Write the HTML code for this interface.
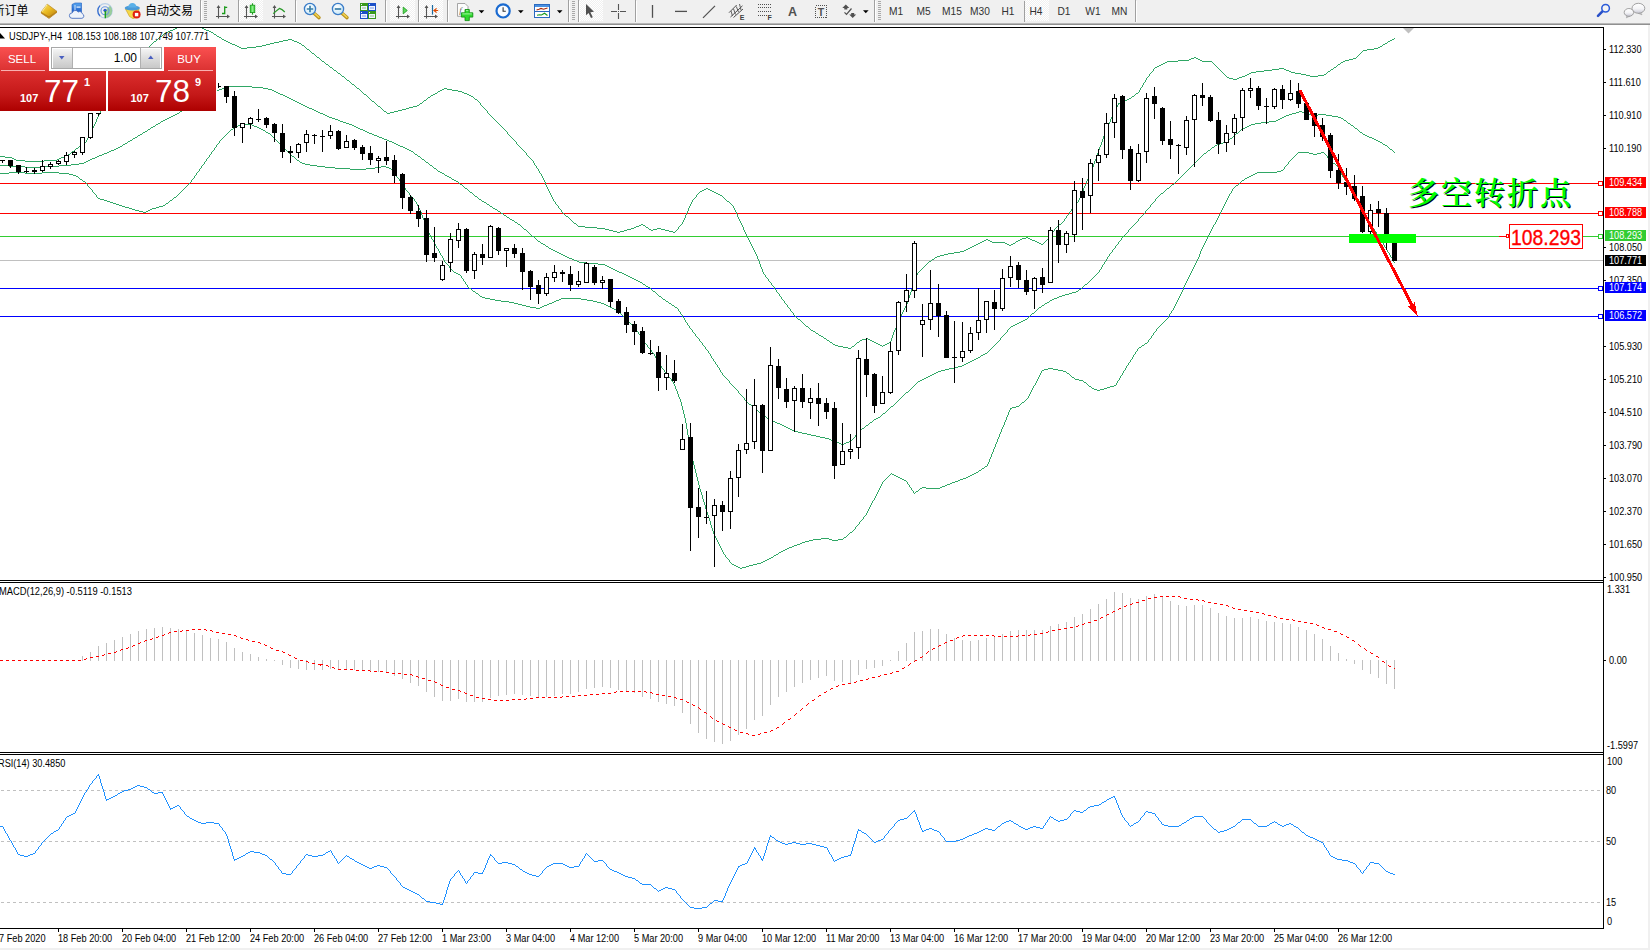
<!DOCTYPE html>
<html lang="zh"><head><meta charset="utf-8"><title>USDJPY-,H4</title>
<style>html,body{margin:0;padding:0;background:#f0f0f0;}body{width:1650px;height:950px;overflow:hidden;position:relative;font-family:"Liberation Sans","Noto Sans CJK SC",sans-serif;}</style></head>
<body>
<svg width="1650" height="950" viewBox="0 0 1650 950" style="position:absolute;left:0;top:0" font-family="Liberation Sans, Noto Sans CJK SC, sans-serif">
<defs><clipPath id="cm"><rect x="0" y="28" width="1603" height="552"/></clipPath></defs>
<rect x="0" y="0" width="1650" height="950" fill="#f0f0f0"/>
<rect x="0" y="25" width="1648" height="923" fill="#ffffff"/>
<rect x="0" y="23" width="1650" height="1" fill="#b8b8b8"/>
<rect x="0" y="24" width="1650" height="1" fill="#909090"/>
<g shape-rendering="crispEdges">
<rect x="0" y="27" width="1604" height="1" fill="#000" />
<rect x="1603" y="27" width="1" height="902" fill="#000"/>
<rect x="0" y="580" width="1604" height="1" fill="#000" />
<rect x="0" y="582" width="1604" height="1" fill="#000" />
<rect x="0" y="752" width="1604" height="1" fill="#000" />
<rect x="0" y="754" width="1604" height="1" fill="#000" />
<rect x="0" y="928" width="1604" height="1" fill="#000" />
<g clip-path="url(#cm)">
<rect x="0" y="260" width="1603" height="1" fill="#c0c0c0" />
<rect x="0" y="183" width="1603" height="1" fill="#ff0000" />
<rect x="0" y="213" width="1603" height="1" fill="#ff0000" />
<rect x="0" y="236" width="1603" height="1" fill="#32cd32" />
<rect x="0" y="288" width="1603" height="1" fill="#0000ff" />
<rect x="0" y="316" width="1603" height="1" fill="#0000ff" />
<path d="M605 229.5h4M627 229.5h4M649 229.5h2M653 229.5h4M661 229.5h4M972 246.5h2M224 40.5h2M283 40.5h5M292 40.5h2M1390 40.5h2M862 339.5h4M868 339.5h2M462 92.5h2M16 160.5h9M44 160.5h13M1251 72.5h5M1291 72.5h4M1178 60.5h11M1200 60.5h2M1345 60.5h4M976 244.5h2M1007 244.5h2M1011 244.5h2M1041 244.5h2M716 193.5h2M1272 69.5h7M1284 69.5h2M1331 69.5h2M1191 58.5h3M1196 58.5h2M1353 58.5h3M83 143.5h2M1165 62.5h2M1341 62.5h2M929 261.5h2M364 94.5h2M433 94.5h2M467 94.5h2M154 41.5h2M226 41.5h2M279 41.5h4M294 41.5h3M1388 41.5h2M307 49.5h2M1367 49.5h7M585 227.5h12M634 227.5h2M646 227.5h2M471 96.5h2M1132 96.5h2M704 189.5h2M708 189.5h2M409 107.5h4M838 346.5h5M852 346.5h2M830 342.5h2M857 342.5h2M874 342.5h2M889 342.5h2M222 39.5h2M288 39.5h4M1392 39.5h2M440 90.5h2M452 90.5h6M442 89.5h2M447 89.5h5M986 239.5h2M1020 239.5h2M1030 239.5h2M1233 79.5h4M357 88.5h2M444 88.5h3M347 80.5h2M235 45.5h2M262 45.5h4M302 45.5h2M1129 98.5h2M378 106.5h2M413 106.5h4M639 225.5h2M643 225.5h2M964 250.5h2M876 343.5h2M887 343.5h2M702 190.5h2M710 190.5h2M980 242.5h2M992 242.5h13M1037 242.5h2M228 42.5h2M274 42.5h5M297 42.5h2M352 84.5h2M984 240.5h2M988 240.5h2M1018 240.5h2M1032 240.5h3M566 216.5h2M1026 237.5h2M1163 63.5h2M438 91.5h2M458 91.5h4M714 192.5h2M214 34.5h2M170 30.5h3M206 30.5h3M390 112.5h4M342 76.5h2M1242 76.5h3M1310 76.5h8M940 255.5h4M1022 238.5h4M1028 238.5h2M334 70.5h2M1264 70.5h8M1286 70.5h3M720 195.5h2M641 224.5h2M1059 224.5h2M819 335.5h2M966 249.5h2M160 36.5h2M217 36.5h2M1247 74.5h2M1301 74.5h5M1324 74.5h2M960 251.5h4M25 161.5h19M402 109.5h4M982 241.5h2M990 241.5h2M1016 241.5h2M1035 241.5h2M578 226.5h7M636 226.5h3M1245 75.5h2M1306 75.5h4M1318 75.5h6M609 230.5h4M624 230.5h3M651 230.5h2M665 230.5h4M372 101.5h2M1122 101.5h2M1256 71.5h8M1289 71.5h2M1328 71.5h2M424 100.5h2M1124 100.5h3M326 64.5h2M1161 64.5h2M1338 64.5h2M1159 65.5h2M5 157.5h7M61 157.5h3M14 159.5h2M57 159.5h2M398 110.5h4M1189 59.5h2M1198 59.5h2M1349 59.5h4M978 243.5h2M1005 243.5h2M1013 243.5h2M1039 243.5h2M935 257.5h2M0 156.5h5M64 156.5h2M843 347.5h5M613 231.5h4M620 231.5h4M669 231.5h4M597 228.5h8M631 228.5h3M657 228.5h4M12 158.5h2M59 158.5h2M806 326.5h2M974 245.5h2M1009 245.5h2M1279 68.5h5M322 61.5h2M1167 61.5h11M1202 61.5h10M1343 61.5h2M431 95.5h2M469 95.5h2M848 348.5h3M435 93.5h2M464 93.5h3M1136 93.5h2M219 37.5h2M241 48.5h6M1374 48.5h4M237 46.5h2M256 46.5h6M1380 46.5h2M948 253.5h6M338 73.5h2M1249 73.5h2M1295 73.5h6M79 146.5h2M937 256.5h3M727 201.5h2M833 344.5h2M878 344.5h2M885 344.5h2M406 108.5h3M1229 78.5h4M1237 78.5h2M384 111.5h2M394 111.5h4M1120 102.5h2M821 336.5h2M330 67.5h2M1155 67.5h2M1334 67.5h2M239 47.5h2M247 47.5h9M1378 47.5h2M232 44.5h3M266 44.5h4M1383 44.5h2M417 105.5h2M706 188.5h2M617 232.5h3M673 232.5h2M230 43.5h2M270 43.5h4M299 43.5h2M1385 43.5h2M168 31.5h2M209 31.5h2M970 247.5h2M428 97.5h2M475 99.5h2M1127 99.5h2M72 151.5h2M66 155.5h2M387 113.5h3M718 194.5h2M1363 50.5h4M68 154.5h2M835 345.5h3M880 345.5h2M883 345.5h2M798 319.5h2M420 103.5h2M1118 103.5h2M932 259.5h2M1227 77.5h2M1239 77.5h3M312 53.5h2M824 338.5h2M866 338.5h2M954 252.5h6M813 331.5h2M574 223.5h2M827 340.5h2M860 340.5h2M870 340.5h2M872 341.5h2M968 248.5h2M1157 66.5h2M944 254.5h4M700 191.5h2M712 191.5h2M811 330.5h2M317 57.5h2M1194 57.5h2M173 29.5h2M204 29.5h2M76 148.5h2M166 32.5h2M211 32.5h2M816 333.5h2M175 28.5h2M202 28.5h2M164 33.5h2M1218.5 68v1M891.5 338v3M351.5 83v1M362.5 92v1M1102.5 139v3M553.5 199v2M88.5 136v2M321.5 60v1M911.5 289v3M690.5 204v2M1081.5 193v3M520.5 147v1M1153.5 69v2M549.5 191v2M738.5 217v2M826.5 339v1M527.5 155v1M490.5 115v1M1073.5 207v1M697.5 194v1M1225.5 75v1M1097.5 153v3M491.5 116v1M1086.5 181v3M422.5 102v1M162.5 35v1M1101.5 142v3M134.5 62v1M749.5 240v2M87.5 138v2M119.5 82v1M99.5 113v2M1080.5 196v2M131.5 65v1M426.5 99v1M1117.5 105v2M538.5 169v2M923.5 267v1M803.5 323v1M774.5 287v2M430.5 96v1M1096.5 156v3M570.5 219v1M519.5 146v1M1382.5 45v1M498.5 123v1M685.5 215v3M1085.5 184v2M103.5 106v2M804.5 324v1M1144.5 82v1M106.5 101v2M677.5 229v1M788.5 307v1M571.5 220v1M483.5 107v1M552.5 197v2M1076.5 203v1M789.5 308v1M556.5 204v1M903.5 310v2M894.5 330v2M146.5 49v1M752.5 246v2M1361.5 52v1M1057.5 226v1M1224.5 74v1M882.5 346v1M906.5 304v2M332.5 68v1M763.5 272v2M684.5 218v2M143.5 52v1M1358.5 55v1M910.5 292v3M735.5 210v2M122.5 77v2M1140.5 88v2M102.5 108v2M1061.5 223v1M748.5 238v2M1105.5 131v3M1093.5 164v3M346.5 79v1M890.5 341v1M745.5 232v2M1052.5 232v2M934.5 258v1M541.5 174v2M512.5 138v1M689.5 206v2M369.5 98v1M802.5 322v1M759.5 261v3M497.5 122v1M680.5 225v1M778.5 293v1M98.5 115v2M78.5 147v1M1104.5 134v2M1327.5 72v1M1069.5 212v2M1015.5 242v1M898.5 321v2M551.5 195v2M696.5 195v2M82.5 144v1M856.5 343v1M548.5 189v2M737.5 214v3M91.5 130v2M1109.5 122v2M504.5 129v1M1064.5 219v2M153.5 42v1M730.5 203v1M118.5 83v2M918.5 272v1M818.5 334v1M1079.5 198v2M301.5 44v1M1088.5 176v3M526.5 153v2M505.5 130v1M762.5 269v3M854.5 345v1M897.5 323v3M1212.5 62v1M545.5 182v3M734.5 208v2M577.5 225v1M773.5 286v1M776.5 290v2M1213.5 63v1M744.5 230v2M760.5 264v3M1084.5 186v2M1143.5 83v2M1108.5 124v3M1152.5 71v1M138.5 58v1M777.5 292v1M1075.5 204v2M758.5 259v2M1087.5 179v2M699.5 192v1M893.5 332v3M688.5 208v3M905.5 306v2M328.5 65v1M1100.5 145v2M1147.5 77v1M555.5 202v2M791.5 311v1M86.5 140v2M558.5 206v2M1139.5 90v2M1092.5 167v2M736.5 212v2M1116.5 107v2M1048.5 238v1M157.5 39v1M559.5 208v1M1051.5 234v1M765.5 275v2M1095.5 159v2M892.5 335v3M809.5 328v1M904.5 308v2M1333.5 68v1M368.5 97v1M766.5 277v1M1103.5 136v3M1099.5 147v3M810.5 329v1M141.5 54v2M97.5 117v2M1091.5 169v3M113.5 90v2M125.5 73v1M725.5 199v1M832.5 343v1M213.5 33v1M683.5 220v2M900.5 316v3M726.5 200v1M757.5 256v3M1083.5 188v3M1063.5 221v1M1219.5 69v1M109.5 96v2M925.5 265v1M1220.5 70v1M573.5 222v1M576.5 224v1M547.5 187v2M133.5 63v1M507.5 132v2M101.5 110v1M733.5 206v2M1337.5 65v1M1226.5 76v1M529.5 157v1M492.5 117v1M747.5 236v2M105.5 103v2M128.5 69v1M148.5 47v1M687.5 211v2M913.5 284v3M779.5 294v2M1078.5 200v2M1146.5 78v2M679.5 226v1M743.5 227v3M1115.5 109v2M1043.5 243v1M1066.5 216v2M917.5 273v2M780.5 296v1M1094.5 161v3M363.5 93v1M790.5 309v2M374.5 102v1M499.5 124v1M896.5 326v2M145.5 50v1M557.5 205v1M1360.5 53v1M1098.5 150v3M805.5 325v1M521.5 148v1M375.5 103v1M550.5 193v2M386.5 112v1M1142.5 85v2M1111.5 117v2M561.5 210v2M522.5 149v1M140.5 56v1M916.5 275v3M1054.5 229v2M506.5 131v1M121.5 79v1M333.5 69v1M732.5 205v1M764.5 274v1M761.5 267v2M682.5 222v2M92.5 128v2M477.5 100v1M746.5 234v2M920.5 270v1M1110.5 119v3M513.5 139v1M419.5 104v1M695.5 197v1M108.5 98v2M81.5 145v1M514.5 140v1M1134.5 95v1M572.5 221v1M484.5 108v1M423.5 101v1M96.5 119v3M152.5 43v1M793.5 313v2M546.5 185v2M112.5 92v1M115.5 88v1M794.5 315v1M908.5 298v3M124.5 74v2M754.5 250v2M127.5 70v2M1107.5 127v2M731.5 204v1M686.5 213v2M912.5 287v2M473.5 97v1M768.5 279v2M1154.5 68v1M1074.5 206v1M370.5 99v1M381.5 108v1M1149.5 74v2M895.5 328v2M1214.5 64v1M1058.5 225v1M1082.5 191v2M907.5 301v3M823.5 337v1M782.5 299v1M314.5 54v1M135.5 61v1M1215.5 65v1M159.5 37v1M1138.5 92v1M698.5 193v1M427.5 98v1M815.5 332v1M359.5 89v1M1050.5 235v1M163.5 34v1M924.5 266v1M329.5 66v1M693.5 199v1M487.5 111v2M1090.5 172v2M1145.5 80v2M1114.5 111v2M678.5 227v2M1045.5 241v1M1222.5 72v1M753.5 248v2M344.5 77v1M147.5 48v1M767.5 278v1M1077.5 202v1M95.5 122v2M915.5 278v3M494.5 119v1M1062.5 222v1M781.5 297v2M927.5 263v1M800.5 320v1M516.5 142v2M111.5 93v2M742.5 225v2M931.5 260v1M100.5 111v2M1072.5 208v1M792.5 312v1M1221.5 71v1M517.5 144v1M1106.5 129v2M1118.5 104v1M756.5 254v2M1053.5 231v1M71.5 152v1M1141.5 87v1M914.5 281v3M560.5 209v1M150.5 45v1M75.5 149v1M523.5 150v1M377.5 105v1M380.5 107v1M524.5 151v1M310.5 51v1M324.5 62v1M530.5 158v1M509.5 135v1M90.5 132v2M1362.5 51v1M771.5 283v2M1049.5 236v2M325.5 63v1M531.5 159v1M902.5 312v2M1056.5 227v1M1089.5 174v2M741.5 223v2M1113.5 113v2M486.5 110v1M755.5 252v2M681.5 224v1M376.5 104v1M508.5 134v1M795.5 316v1M437.5 92v1M922.5 268v1M354.5 85v1M94.5 124v2M796.5 317v1M130.5 66v1M493.5 118v1M563.5 213v1M676.5 230v1M544.5 180v2M829.5 341v1M107.5 100v1M1148.5 76v1M534.5 163v2M851.5 347v1M1326.5 73v1M1068.5 214v1M770.5 282v1M909.5 295v3M692.5 200v2M478.5 101v1M515.5 141v1M855.5 344v1M784.5 301v2M500.5 125v1M479.5 102v1M114.5 89v1M785.5 303v1M859.5 341v1M126.5 72v1M501.5 126v1M485.5 109v1M319.5 58v1M350.5 82v1M562.5 212v1M142.5 53v1M1357.5 56v1M309.5 50v1M320.5 59v1M89.5 134v2M1151.5 72v1M137.5 59v1M1071.5 209v2M769.5 281v1M1330.5 70v1M533.5 161v2M926.5 264v1M371.5 100v1M1216.5 66v1M722.5 196v1M85.5 142v1M349.5 81v1M648.5 228v1M360.5 90v1M740.5 221v2M723.5 197v1M383.5 110v1M783.5 300v1M537.5 168v1M1047.5 239v1M156.5 40v1M361.5 91v1M305.5 47v1M70.5 153v1M1387.5 42v1M149.5 46v1M901.5 314v2M1044.5 242v1M474.5 98v1M751.5 244v2M691.5 202v2M1112.5 115v2M382.5 109v1M536.5 166v2M345.5 78v1M110.5 95v1M304.5 46v1M315.5 55v1M532.5 160v1M511.5 137v1M540.5 173v1M569.5 218v1M481.5 105v1M117.5 85v1M316.5 56v1M120.5 80v2M93.5 126v2M787.5 305v2M129.5 67v2M132.5 64v1M482.5 106v1M74.5 150v1M518.5 145v1M488.5 113v1M921.5 269v1M1223.5 73v1M104.5 105v1M489.5 114v1M729.5 202v1M675.5 231v1M750.5 242v2M356.5 87v1M543.5 178v2M525.5 152v1M495.5 120v1M645.5 226v1M565.5 215v1M1055.5 228v1M801.5 321v1M1359.5 54v1M772.5 285v1M144.5 51v1M539.5 171v2M568.5 217v1M496.5 121v1M480.5 103v2M221.5 38v1M139.5 57v1M739.5 219v2M786.5 304v1M502.5 127v1M1131.5 97v1M340.5 74v1M216.5 35v1M554.5 201v1M503.5 128v1M1336.5 66v1M928.5 262v1M1135.5 94v1M341.5 75v1M311.5 52v1M1340.5 63v1M355.5 86v1M1067.5 215v1M1070.5 211v1M899.5 319v2M694.5 198v1M510.5 136v1M1065.5 218v1M116.5 86v2M367.5 96v1M542.5 176v2M151.5 44v1M535.5 165v1M1046.5 240v1M1356.5 57v1M724.5 198v1M123.5 76v1M1394.5 38v1M1150.5 73v1M136.5 60v1M366.5 95v1M797.5 318v1M808.5 327v1M564.5 214v1M919.5 271v1M158.5 38v1M528.5 156v1M336.5 71v1M775.5 289v1M1217.5 67v1M306.5 48v1M337.5 72v1" stroke="#2fa765" stroke-width="1" fill="none"/>
<path d="M225 87.5h4M252 87.5h11M171 116.5h2M327 116.5h2M1284 116.5h2M1332 116.5h6M95 157.5h2M123 144.5h2M396 144.5h2M1217 144.5h3M1383 144.5h2M541 243.5h2M0 165.5h9M59 165.5h12M430 165.5h2M9 166.5h16M42 166.5h17M1065 294.5h4M970 361.5h2M579 262.5h7M175 114.5h2M323 114.5h2M1289 114.5h3M1308 114.5h3M1318 114.5h8M173 115.5h2M325 115.5h2M1286 115.5h3M1311 115.5h7M1326 115.5h6M966 363.5h2M515 222.5h2M926 377.5h2M133 138.5h2M382 138.5h2M1230 138.5h2M1372 138.5h2M648 287.5h2M605 265.5h2M190 105.5h2M303 105.5h2M922 379.5h2M543 244.5h2M229 86.5h23M297 102.5h2M802 433.5h5M151 127.5h2M356 127.5h2M1245 127.5h2M97 156.5h2M418 156.5h2M398 145.5h2M1215 145.5h2M1385 145.5h2M128 141.5h2M389 141.5h3M1226 141.5h2M1378 141.5h2M209 94.5h2M280 94.5h3M135 137.5h2M379 137.5h3M1369 137.5h3M792 430.5h2M784 426.5h2M109 151.5h2M411 151.5h2M116 148.5h2M405 148.5h2M777 423.5h3M769 419.5h2M874 419.5h2M161 121.5h2M340 121.5h3M1269 121.5h7M786 427.5h2M167 118.5h2M332 118.5h3M1280 118.5h2M1341 118.5h2M586 263.5h12M456 181.5h2M557 252.5h2M111 150.5h3M409 150.5h2M1208 150.5h2M945 369.5h4M976 358.5h2M118 147.5h2M403 147.5h2M1212 147.5h2M343 122.5h3M1261 122.5h8M773 421.5h2M169 117.5h2M329 117.5h3M1282 117.5h2M1338 117.5h3M114 149.5h2M407 149.5h2M1390 149.5h2M158 123.5h2M346 123.5h3M1255 123.5h6M1348 123.5h2M84 162.5h2M426 162.5h2M934 373.5h2M165 119.5h2M335 119.5h3M1278 119.5h2M1032 313.5h2M669 303.5h2M1045 303.5h2M104 153.5h3M1204 153.5h2M1025 319.5h2M177 113.5h2M320 113.5h3M1292 113.5h4M1305 113.5h3M978 357.5h2M985 353.5h2M546 246.5h2M1072 292.5h4M974 359.5h2M759 412.5h2M447 176.5h2M188 106.5h2M305 106.5h2M99 155.5h3M510 219.5h2M836 442.5h3M846 442.5h3M825 438.5h4M392 142.5h2M1223 142.5h3M1380 142.5h2M358 128.5h2M1243 128.5h2M1355 128.5h2M811 435.5h5M301 104.5h2M198 100.5h2M293 100.5h2M205 96.5h2M285 96.5h2M125 143.5h2M394 143.5h2M1220 143.5h3M203 97.5h2M287 97.5h2M211 93.5h2M278 93.5h2M1021 321.5h2M490 206.5h2M130 140.5h2M387 140.5h2M1376 140.5h2M377 136.5h2M1367 136.5h2M217 90.5h2M272 90.5h2M318 112.5h2M1296 112.5h3M1302 112.5h3M831 440.5h3M222 88.5h3M263 88.5h5M1161 193.5h2M790 429.5h2M782 425.5h2M866 425.5h2M754 408.5h2M1062 295.5h3M569 258.5h3M775 422.5h2M870 422.5h2M767 418.5h2M876 418.5h2M163 120.5h2M338 120.5h2M1276 120.5h2M1344 120.5h2M839 443.5h2M844 443.5h2M504 215.5h2M663 299.5h2M1052 299.5h2M484 202.5h2M25 167.5h17M646 286.5h2M924 378.5h2M816 436.5h4M619 272.5h3M611 268.5h2M92 158.5h3M598 264.5h7M918 381.5h2M636 280.5h2M213 92.5h2M276 92.5h2M891 406.5h2M1054 298.5h3M384 139.5h3M1374 139.5h2M958 366.5h4M369 133.5h3M1236 133.5h2M807 434.5h4M622 273.5h2M140 134.5h2M372 134.5h2M1363 134.5h2M465 188.5h2M1167 188.5h2M196 101.5h2M295 101.5h2M156 124.5h2M349 124.5h3M1251 124.5h4M71 164.5h8M193 103.5h2M299 103.5h2M120 146.5h2M400 146.5h3M201 98.5h2M289 98.5h2M932 374.5h2M107 152.5h2M79 163.5h5M143 132.5h2M367 132.5h2M1360 132.5h2M1017 323.5h2M553 250.5h2M567 257.5h2M749 404.5h2M798 432.5h4M574 260.5h3M981 355.5h2M638 281.5h2M482 201.5h2M949 368.5h5M180 111.5h2M316 111.5h2M1299 111.5h3M920 380.5h2M148 129.5h2M360 129.5h3M1241 129.5h2M1019 322.5h2M834 441.5h2M849 441.5h2M938 371.5h3M572 259.5h2M788 428.5h2M862 428.5h2M607 266.5h2M1050 300.5h2M954 367.5h4M215 91.5h2M274 91.5h2M941 370.5h4M352 125.5h2M1249 125.5h2M1351 125.5h2M153 126.5h2M354 126.5h2M1247 126.5h2M86 161.5h2M1011 326.5h2M841 444.5h3M460 184.5h2M1172 184.5h2M138 135.5h2M374 135.5h3M1365 135.5h2M624 274.5h2M145 131.5h2M365 131.5h2M764 416.5h2M878 417.5h2M906 392.5h2M628 276.5h2M972 360.5h2M438 171.5h2M532 236.5h2M964 364.5h2M883 413.5h2M312 109.5h2M983 354.5h2M470 192.5h2M475 196.5h2M1079 289.5h2M207 95.5h2M283 95.5h2M968 362.5h2M771 420.5h2M659 296.5h2M1059 296.5h3M577 261.5h2M609 267.5h2M640 282.5h2M634 279.5h2M363 130.5h2M498 211.5h2M102 154.5h2M415 154.5h2M930 375.5h2M449 177.5h2M1023 320.5h2M1069 293.5h3M672 305.5h2M1042 305.5h2M219 89.5h3M268 89.5h4M962 365.5h2M487 204.5h2M829 439.5h2M185 108.5h2M309 108.5h3M495 209.5h2M555 251.5h2M794 431.5h4M518 224.5h2M666 301.5h2M632 278.5h2M559 253.5h2M653 291.5h2M1076 291.5h2M626 275.5h2M454 180.5h2M1047 302.5h2M512 220.5h2M675 307.5h2M1039 307.5h2M442 173.5h2M90 159.5h2M422 159.5h2M88 160.5h2M1057 297.5h2M182 110.5h2M314 110.5h2M643 284.5h2M1085 284.5h2M565 256.5h2M501 213.5h2M820 437.5h5M452 179.5h2M1015 324.5h2M1013 325.5h2M440 172.5h2M928 376.5h2M524 229.5h2M479 199.5h2M434 168.5h2M630 277.5h2M551 249.5h2M493 208.5h2M507 217.5h2M307 107.5h2M936 372.5h2M563 255.5h2M445 175.5h2M615 270.5h2M549 248.5h2M613 269.5h2M538 241.5h2M561 254.5h2M780 424.5h2M291 99.5h2M617 271.5h2M529.5 233v1M469.5 191v1M540.5 242v1M429.5 164v1M1184.5 173v1M901.5 397v1M668.5 302v1M679.5 311v1M1121.5 238v2M1157.5 197v1M899.5 399v1M711.5 356v2M1235.5 134v1M997.5 342v1M1353.5 126v1M514.5 221v1M715.5 362v2M744.5 398v2M1239.5 131v1M1089.5 281v1M726.5 378v1M1078.5 290v1M1136.5 222v1M708.5 351v2M745.5 400v1M678.5 309v2M506.5 216v1M1133.5 225v1M1082.5 287v1M1191.5 166v1M1102.5 265v2M682.5 315v2M1114.5 248v1M1117.5 244v1M147.5 130v1M857.5 433v1M696.5 336v1M912.5 387v1M451.5 178v1M1000.5 338v2M1109.5 254v2M697.5 337v1M424.5 160v1M1101.5 267v2M707.5 350v1M1179.5 178v1M1203.5 154v1M536.5 239v1M896.5 402v1M1125.5 234v1M1145.5 211v2M1382.5 143v1M1207.5 151v1M1096.5 274v1M1105.5 261v1M860.5 430v1M1120.5 240v1M645.5 285v1M915.5 384v1M992.5 347v1M864.5 427v1M729.5 381v2M1359.5 131v1M155.5 125v1M127.5 142v1M1030.5 315v1M1128.5 230v2M464.5 187v1M1034.5 312v1M535.5 238v1M736.5 389v1M852.5 439v1M903.5 395v1M710.5 354v2M766.5 417v1M1027.5 318v1M1176.5 181v1M1211.5 148v1M1148.5 208v1M1392.5 150v1M743.5 397v1M1159.5 195v1M887.5 410v1M1093.5 277v1M1393.5 151v1M677.5 308v1M685.5 320v2M868.5 424v1M1143.5 214v1M999.5 340v1M1163.5 192v1M420.5 157v1M1198.5 159v1M1108.5 256v1M695.5 334v2M880.5 416v1M1195.5 162v1M872.5 421v1M1156.5 198v1M699.5 339v2M520.5 225v1M1007.5 330v2M910.5 389v1M713.5 359v2M1084.5 285v1M1104.5 262v2M987.5 352v1M1151.5 204v1M1186.5 171v1M1354.5 127v1M714.5 361v1M717.5 365v2M1183.5 174v1M497.5 210v1M1123.5 236v1M680.5 312v2M728.5 380v1M530.5 234v1M681.5 314v1M200.5 99v1M684.5 318v2M1174.5 183v1M192.5 104v1M531.5 235v1M761.5 413v1M184.5 109v1M735.5 388v1M545.5 245v1M1388.5 147v1M917.5 382v1M709.5 353v1M1088.5 282v1M712.5 358v1M1135.5 223v1M720.5 370v2M1193.5 164v1M1038.5 308v1M721.5 372v1M859.5 431v1M665.5 300v1M727.5 379v1M914.5 385v1M746.5 401v1M655.5 292v1M687.5 323v2M757.5 410v1M1002.5 336v1M1111.5 252v1M854.5 437v1M1181.5 176v1M688.5 325v1M898.5 400v1M1350.5 124v1M1127.5 232v1M1202.5 155v1M1098.5 272v1M1138.5 219v2M1387.5 146v1M1228.5 140v1M698.5 338v1M1095.5 275v1M738.5 391v2M716.5 364v1M1200.5 157v1M1232.5 137v1M719.5 368v2M537.5 240v1M994.5 345v1M882.5 414v1M1190.5 167v1M1158.5 196v1M886.5 411v1M489.5 205v1M683.5 317v1M686.5 322v1M1029.5 316v1M481.5 200v1M1130.5 228v1M1150.5 205v2M1188.5 169v1M905.5 393v1M851.5 440v1M1178.5 179v1M425.5 161v1M444.5 174v1M909.5 390v1M650.5 288v1M661.5 297v1M702.5 343v2M160.5 122v1M889.5 408v1M1107.5 257v2M1165.5 190v1M756.5 409v1M893.5 405v1M1119.5 241v1M1122.5 237v1M1142.5 215v1M1197.5 160v1M526.5 230v1M1169.5 187v1M1346.5 121v1M1036.5 310v1M730.5 383v1M690.5 328v1M122.5 145v1M1394.5 152v1M1137.5 221v1M421.5 158v1M989.5 350v1M1153.5 202v1M1009.5 328v1M1083.5 286v1M1044.5 304v1M1185.5 172v1M503.5 214v1M916.5 383v1M737.5 390v1M1004.5 334v1M701.5 342v1M722.5 373v2M436.5 169v1M674.5 306v1M642.5 283v1M477.5 197v1M723.5 375v1M900.5 398v1M1001.5 337v1M689.5 326v2M195.5 102v1M187.5 107v1M1090.5 280v1M179.5 112v1M861.5 429v1M1234.5 135v1M751.5 405v1M762.5 414v1M700.5 341v1M521.5 226v1M752.5 406v1M1192.5 165v1M1238.5 132v1M763.5 415v1M522.5 227v1M462.5 185v1M132.5 139v1M718.5 367v1M1113.5 249v1M417.5 155v1M853.5 438v1M1180.5 177v1M1140.5 217v1M1129.5 229v1M996.5 343v1M656.5 293v1M1097.5 273v1M432.5 166v1M895.5 403v1M1389.5 148v1M865.5 426v1M1160.5 194v1M671.5 304v1M1081.5 288v1M888.5 409v1M703.5 345v1M740.5 394v1M1116.5 245v1M1031.5 314v1M704.5 346v1M1132.5 226v1M1155.5 199v2M747.5 402v1M1035.5 311v1M758.5 411v1M1187.5 170v1M1100.5 269v1M517.5 223v1M528.5 232v1M911.5 388v1M1008.5 329v1M692.5 330v2M732.5 385v1M1171.5 185v1M1206.5 152v1M472.5 193v1M733.5 386v1M1124.5 235v1M1175.5 182v1M1210.5 149v1M1144.5 213v1M1164.5 191v1M1199.5 158v1M739.5 393v1M413.5 152v1M651.5 289v1M991.5 348v1M486.5 203v1M1214.5 146v1M1092.5 278v1M652.5 290v1M527.5 231v1M856.5 434v1M724.5 376v1M150.5 128v1M142.5 133v1M725.5 377v1M1229.5 139v1M1152.5 203v1M988.5 351v1M1347.5 122v1M980.5 356v1M731.5 384v1M468.5 190v1M1233.5 136v1M1006.5 332v1M691.5 329v1M509.5 218v1M1147.5 209v1M1003.5 335v1M1112.5 250v2M753.5 407v1M662.5 298v1M902.5 396v1M523.5 228v1M1099.5 270v2M467.5 189v1M478.5 198v1M1139.5 218v1M995.5 344v1M1194.5 163v1M1087.5 283v1M658.5 295v1M1134.5 224v1M1103.5 264v1M1115.5 246v2M1037.5 309v1M855.5 435v2M1362.5 133v1M1049.5 301v1M437.5 170v1M1182.5 175v1M705.5 347v2M1343.5 119v1M998.5 341v1M1110.5 253v1M706.5 349v1M1240.5 130v1M657.5 294v1M897.5 401v1M1166.5 189v1M1201.5 156v1M1358.5 130v1M890.5 407v1M1106.5 259v2M500.5 212v1M1170.5 186v1M1118.5 242v2M694.5 333v1M473.5 194v1M858.5 432v1M433.5 167v1M1041.5 306v1M913.5 386v1M463.5 186v1M534.5 237v1M1131.5 227v1M474.5 195v1M1154.5 201v1M1189.5 168v1M1091.5 279v1M741.5 395v1M548.5 247v1M1028.5 317v1M1126.5 233v1M742.5 396v1M904.5 394v1M748.5 403v1M1357.5 129v1M1177.5 180v1M894.5 404v1M993.5 346v1M693.5 332v1M1146.5 210v1M459.5 183v1M1094.5 276v1M869.5 423v1M492.5 207v1M734.5 387v1M881.5 415v1M1141.5 216v1M1196.5 161v1M873.5 420v1M414.5 153v1M990.5 349v1M1010.5 327v1M885.5 412v1M428.5 163v1M1149.5 207v1M1005.5 333v1M137.5 136v1M908.5 391v1M458.5 182v1" stroke="#2fa765" stroke-width="1" fill="none"/>
<path d="M518 304.5h4M547 304.5h2M604 304.5h2M9 172.5h16M42 172.5h17M1257 172.5h20M794 545.5h3M83 181.5h2M1075 379.5h4M302 163.5h3M1333 163.5h2M757 563.5h4M240 124.5h12M300 162.5h2M1309 153.5h4M1317 153.5h4M776 554.5h2M922 487.5h4M940 487.5h2M107 201.5h3M805 541.5h4M736 566.5h2M746 566.5h3M536 308.5h4M612 308.5h2M125 207.5h4M156 207.5h3M76 176.5h2M1249 176.5h2M1044 369.5h4M1053 369.5h5M522 305.5h4M544 305.5h3M606 305.5h2M916 491.5h2M116 204.5h3M501 301.5h8M554 301.5h2M593 301.5h4M1063 371.5h3M100 199.5h4M495 300.5h6M556 300.5h3M587 300.5h6M920 488.5h2M926 488.5h14M530 307.5h6M540 307.5h2M610 307.5h2M305 164.5h5M458 274.5h2M1092 388.5h2M1104 388.5h3M73 175.5h3M1251 175.5h2M1094 389.5h3M1100 389.5h4M485 298.5h5M561 298.5h20M110 202.5h3M317 166.5h8M381 166.5h5M80 179.5h2M325 167.5h10M375 167.5h6M386 167.5h3M335 168.5h15M366 168.5h9M389 168.5h2M490 299.5h5M559 299.5h2M581 299.5h6M509 302.5h5M552 302.5h2M597 302.5h4M135 210.5h4M148 210.5h2M1247 177.5h2M143 212.5h3M1016 406.5h3M1114 385.5h2M783 550.5h2M950 483.5h2M122 206.5h3M159 206.5h4M1236 185.5h2M844 537.5h2M896 476.5h2M968 476.5h2M809 540.5h4M832 540.5h6M985 466.5h2M1042 370.5h2M1058 370.5h5M113 203.5h3M166 203.5h2M1298 152.5h11M1321 152.5h3M297 160.5h2M1022 402.5h2M266 132.5h2M174 197.5h2M904 480.5h2M958 480.5h2M0 173.5h9M25 173.5h17M59 173.5h10M1255 173.5h2M456 273.5h2M1048 368.5h5M69 174.5h4M1253 174.5h2M129 208.5h3M152 208.5h4M774 555.5h2M785 549.5h2M797 544.5h3M350 169.5h16M947 484.5h3M132 209.5h3M150 209.5h2M1072 377.5h2M792 546.5h2M292 156.5h2M119 205.5h3M163 205.5h2M1281 170.5h2M514 303.5h4M549 303.5h3M601 303.5h3M1089 386.5h2M1110 386.5h4M952 482.5h3M480 296.5h2M779 552.5h2M769 558.5h2M738 567.5h2M742 567.5h4M892 474.5h2M972 474.5h2M763 561.5h2M813 539.5h8M829 539.5h3M838 539.5h5M1242 180.5h2M945 485.5h2M732 564.5h2M753 564.5h4M802 542.5h3M821 538.5h8M104 200.5h3M170 200.5h2M526 306.5h4M542 306.5h2M608 306.5h2M139 211.5h4M146 211.5h2M982 468.5h2M1313 154.5h4M1245 178.5h2M979 470.5h2M233 128.5h2M259 128.5h2M765 560.5h2M614 309.5h2M98 198.5h2M1010 408.5h2M1067 373.5h2M257 127.5h2M268 133.5h2M1012 407.5h4M781 551.5h2M1097 390.5h3M454 272.5h2M1139 347.5h2M955 481.5h3M482 297.5h3M771 557.5h2M976 472.5h2M789 547.5h3M1145 343.5h2M231 129.5h2M261 129.5h2M263 130.5h2M236 126.5h2M254 126.5h3M800 543.5h2M310 165.5h7M1079 380.5h4M894 475.5h2M970 475.5h2M898 477.5h2M966 477.5h2M761 562.5h2M1107 387.5h3M974 473.5h2M850 532.5h2M734 565.5h2M749 565.5h4M238 125.5h2M252 125.5h2M767 559.5h2M902 479.5h2M960 479.5h3M476 293.5h2M942 486.5h3M740 568.5h2M469 288.5h2M473 291.5h2M1277 171.5h4M900 478.5h2M963 478.5h3M787 548.5h2M616 310.5h2M1084 382.5h2M1142 345.5h2M717.5 540v2M632.5 325v1M201.5 166v2M430.5 235v2M180.5 192v1M467.5 285v2M288.5 152v1M419.5 208v2M478.5 294v1M875.5 496v2M1133.5 355v2M1007.5 415v2M855.5 527v2M633.5 326v1M427.5 228v3M1181.5 292v2M1193.5 267v2M707.5 512v3M1205.5 241v2M235.5 127v1M867.5 511v2M683.5 410v4M1283.5 169v1M1184.5 285v2M647.5 345v2M1001.5 429v3M686.5 423v6M1153.5 333v2M1241.5 181v1M696.5 473v4M416.5 202v2M913.5 491v2M1197.5 259v2M1209.5 233v2M1177.5 300v2M1390.5 255v2M444.5 260v2M1329.5 159v1M697.5 477v4M1006.5 417v3M863.5 517v2M909.5 485v2M1148.5 340v2M866.5 513v2M710.5 521v4M437.5 248v1M1071.5 376v1M693.5 461v4M192.5 179v1M440.5 253v2M401.5 182v2M690.5 445v5M204.5 162v2M404.5 187v1M1217.5 218v2M989.5 459v3M1041.5 371v2M998.5 437v2M433.5 240v2M216.5 145v2M299.5 161v1M1161.5 324v1M703.5 499v3M858.5 524v1M1129.5 362v1M713.5 531v3M405.5 188v2M1188.5 277v2M434.5 242v2M689.5 440v5M415.5 201v1M1200.5 251v3M714.5 534v2M981.5 469v1M680.5 399v3M1156.5 329v2M265.5 131v1M886.5 478v1M85.5 182v1M1213.5 225v2M646.5 344v1M997.5 439v3M1125.5 368v2M1192.5 269v2M86.5 183v1M184.5 188v1M1204.5 243v2M846.5 536v1M1172.5 310v1M700.5 489v3M1294.5 156v1M1328.5 158v1M1083.5 381v1M912.5 490v1M676.5 389v2M1386.5 248v2M92.5 190v2M1232.5 189v2M1086.5 383v1M1224.5 204v2M207.5 158v1M219.5 141v2M295.5 158v1M436.5 246v2M919.5 489v1M874.5 498v2M1176.5 302v2M669.5 377v1M1005.5 420v2M429.5 233v2M168.5 202v1M699.5 485v4M1168.5 316v2M731.5 563v1M1228.5 196v2M773.5 556v1M172.5 199v1M988.5 462v2M1196.5 261v2M1286.5 165v1M1208.5 235v2M636.5 329v2M620.5 313v1M870.5 505v2M706.5 509v3M1187.5 279v2M1004.5 422v3M621.5 314v1M1136.5 351v1M294.5 157v1M191.5 180v2M1040.5 373v2M911.5 488v2M993.5 449v3M1008.5 412v3M200.5 168v1M682.5 406v4M203.5 164v1M1032.5 388v2M664.5 370v2M1180.5 294v2M1219.5 214v2M393.5 172v1M675.5 386v3M215.5 147v1M881.5 484v2M1020.5 404v1M692.5 456v5M1372.5 226v2M422.5 215v3M443.5 258v2M403.5 185v2M705.5 505v4M668.5 375v2M1183.5 287v3M432.5 239v1M698.5 481v4M628.5 321v1M435.5 244v2M1132.5 357v2M695.5 469v4M1036.5 381v2M468.5 287v1M447.5 264v1M407.5 191v1M179.5 193v1M428.5 231v2M1289.5 161v1M1342.5 175v2M418.5 206v2M1350.5 188v2M1191.5 271v2M223.5 137v1M276.5 140v1M1335.5 164v1M1147.5 342v1M414.5 199v2M712.5 528v3M1231.5 191v2M702.5 495v4M194.5 176v2M1216.5 220v2M206.5 159v2M1327.5 156v2M218.5 143v1M1163.5 322v1M649.5 348v1M1199.5 254v3M1027.5 398v1M1175.5 304v2M876.5 494v2M283.5 147v1M650.5 349v1M1123.5 371v2M1024.5 401v1M95.5 194v1M1371.5 224v2M1227.5 198v2M439.5 251v2M627.5 320v1M442.5 256v2M709.5 518v3M226.5 134v1M667.5 374v1M96.5 195v2M685.5 418v5M987.5 464v2M857.5 525v1M996.5 442v2M1198.5 257v2M1171.5 311v2M872.5 501v2M1346.5 181v2M290.5 154v1M1119.5 378v2M417.5 204v2M1155.5 331v1M1039.5 375v2M992.5 452v2M1223.5 206v2M688.5 435v5M634.5 327v1M1203.5 245v2M691.5 450v6M87.5 184v2M701.5 492v3M1182.5 290v2M635.5 328v1M995.5 444v3M1293.5 157v1M88.5 186v1M392.5 170v2M914.5 493v1M424.5 220v3M1035.5 383v2M723.5 552v2M1222.5 208v2M1195.5 263v2M396.5 175v2M1288.5 162v2M918.5 490v1M1367.5 217v2M1088.5 385v1M186.5 186v1M438.5 249v2M681.5 402v4M888.5 476v1M671.5 379v2M1003.5 425v2M449.5 266v2M674.5 384v2M1135.5 352v2M684.5 414v4M421.5 212v3M1158.5 327v1M719.5 544v2M479.5 295v1M450.5 268v1M410.5 195v1M1031.5 390v2M848.5 534v1M984.5 467v1M1218.5 216v2M1186.5 281v2M214.5 148v2M880.5 486v2M694.5 465v4M638.5 332v2M852.5 531v1M1338.5 167v2M209.5 155v2M1122.5 373v2M1234.5 187v1M197.5 172v1M221.5 139v1M678.5 394v3M1025.5 400v1M1169.5 314v2M1226.5 200v2M991.5 454v3M1330.5 160v1M1238.5 184v1M1030.5 392v2M623.5 316v1M879.5 488v2M97.5 197v1M677.5 391v3M1374.5 229v2M423.5 218v2M1126.5 366v2M722.5 550v2M270.5 134v1M871.5 503v2M1363.5 210v2M1118.5 380v1M395.5 174v1M860.5 521v1M475.5 292v1M704.5 502v3M687.5 429v6M271.5 135v1M1359.5 203v2M1285.5 166v1M994.5 447v2M409.5 193v2M670.5 378v1M1341.5 173v2M1352.5 191v2M708.5 515v3M277.5 141v1M1034.5 385v1M637.5 331v1M181.5 191v1M278.5 142v1M228.5 132v1M711.5 525v3M999.5 434v3M883.5 481v1M394.5 173v1M978.5 471v1M651.5 350v2M622.5 315v1M725.5 555v2M1131.5 359v1M652.5 352v1M1291.5 159v1M296.5 159v1M1370.5 222v2M1038.5 377v2M1190.5 273v2M1373.5 228v1M726.5 557v1M1202.5 247v2M225.5 135v1M448.5 265v1M285.5 149v1M673.5 382v2M462.5 278v1M1366.5 215v2M1344.5 178v2M1347.5 183v2M1355.5 196v2M629.5 322v1M1138.5 348v1M82.5 180v1M1230.5 193v1M193.5 178v1M1165.5 320v1M1340.5 171v2M1348.5 185v1M1337.5 166v1M1221.5 210v2M640.5 335v2M1026.5 399v1M878.5 490v2M778.5 553v1M212.5 151v1M644.5 341v2M89.5 187v1M1117.5 381v2M859.5 522v2M655.5 356v2M658.5 361v2M721.5 548v2M1376.5 232v2M1384.5 245v2M90.5 188v1M1185.5 283v2M724.5 554v1M1002.5 427v2M284.5 148v1M185.5 187v1M1369.5 220v2M1377.5 234v1M1212.5 227v2M854.5 529v1M1380.5 239v1M1358.5 201v2M843.5 538v1M1069.5 374v1M408.5 192v1M1121.5 375v1M1362.5 208v2M398.5 178v1M1343.5 177v1M1225.5 202v2M1351.5 190v1M718.5 542v2M847.5 535v1M1354.5 194v2M460.5 275v1M1149.5 339v1M1295.5 155v1M1029.5 394v2M420.5 210v2M1336.5 165v1M196.5 173v2M291.5 155v1M1010.5 409v1M452.5 270v1M208.5 157v1M679.5 397v2M990.5 457v2M426.5 226v2M1233.5 188v1M220.5 140v1M165.5 204v1M862.5 519v1M1037.5 379v2M188.5 184v1M661.5 366v2M1189.5 275v2M1201.5 249v2M1287.5 164v1M1379.5 237v2M890.5 474v1M654.5 354v2M1160.5 325v1M662.5 368v1M887.5 477v1M78.5 177v1M720.5 546v2M1383.5 243v2M1137.5 349v2M1229.5 194v2M1387.5 250v2M1365.5 213v2M397.5 177v1M1033.5 386v2M1368.5 219v1M1152.5 335v1M463.5 279v2M882.5 482v2M176.5 196v1M1361.5 206v2M1339.5 169v2M199.5 169v2M672.5 381v1M211.5 152v2M1179.5 296v2M273.5 137v1M227.5 133v1M1128.5 363v2M639.5 334v1M1325.5 154v1M657.5 359v2M1375.5 231v1M1120.5 376v2M1144.5 344v1M1290.5 160v1M1331.5 161v1M1167.5 318v1M653.5 353v1M1332.5 162v1M466.5 284v1M1207.5 237v2M1028.5 396v2M869.5 507v2M461.5 276v2M1364.5 212v1M1009.5 410v2M728.5 559v1M451.5 269v1M1240.5 182v1M1349.5 186v2M183.5 189v1M1220.5 212v2M1357.5 199v2M272.5 136v1M411.5 196v1M1116.5 383v2M1021.5 403v1M230.5 130v1M1074.5 378v1M885.5 479v1M1244.5 179v1M425.5 223v3M1124.5 370v1M642.5 338v2M865.5 515v1M1324.5 153v1M643.5 340v1M279.5 143v1M624.5 317v1M1393.5 260v2M873.5 500v1M1151.5 336v2M1297.5 153v1M280.5 144v1M660.5 364v2M1378.5 235v2M1000.5 432v2M1164.5 321v1M727.5 558v1M222.5 138v1M1360.5 205v1M1070.5 375v1M465.5 282v2M286.5 150v1M1215.5 222v2M400.5 181v1M877.5 492v2M716.5 538v2M190.5 182v1M1345.5 180v1M1353.5 193v1M202.5 165v1M287.5 151v1M1174.5 306v2M1162.5 323v1M641.5 337v1M187.5 185v1M1211.5 229v2M849.5 533v1M907.5 482v2M178.5 194v1M1381.5 240v2M1389.5 253v2M853.5 530v1M1392.5 258v2M399.5 179v2M656.5 358v1M908.5 484v1M1382.5 242v1M1170.5 313v1M1385.5 247v1M1356.5 198v1M630.5 323v1M195.5 175v1M198.5 171v1M915.5 492v1M715.5 536v2M210.5 154v1M631.5 324v1M861.5 520v1M205.5 161v1M1019.5 405v1M217.5 144v1M471.5 289v1M889.5 475v1M1194.5 265v2M1127.5 365v1M1206.5 239v2M868.5 509v2M645.5 343v1M1159.5 326v1M472.5 290v1M1284.5 167v2M659.5 363v1M1066.5 372v1M91.5 189v1M1388.5 252v1M1134.5 354v1M1154.5 332v1M1178.5 298v2M663.5 369v1M1235.5 186v1M729.5 560v2M402.5 184v1M182.5 190v1M1239.5 183v1M229.5 131v1M1292.5 158v1M431.5 237v2M730.5 562v1M464.5 281v1M1210.5 231v2M1130.5 360v2M453.5 271v1M274.5 138v1M864.5 516v1M619.5 312v1M1091.5 387v1M275.5 139v1M1166.5 319v1M856.5 526v1M1326.5 155v1M79.5 178v1M1173.5 308v2M648.5 347v1M281.5 145v1M445.5 262v1M282.5 146v1M884.5 480v1M94.5 193v1M1214.5 224v1M189.5 183v1M213.5 150v1M406.5 190v1M446.5 263v1M412.5 197v1M169.5 201v1M618.5 311v1M413.5 198v1M289.5 153v1M173.5 198v1M1150.5 338v1M1296.5 154v1M177.5 195v1M906.5 481v1M224.5 136v1M93.5 192v1M1391.5 257v1M1157.5 328v1M625.5 318v1M1394.5 262v1M910.5 487v1M665.5 372v1M391.5 169v1M626.5 319v1M441.5 255v1M891.5 473v1M666.5 373v1M1141.5 346v1M1087.5 384v1" stroke="#2fa765" stroke-width="1" fill="none"/>
<rect x="2" y="160" width="1" height="3" fill="#000"/>
<rect x="0" y="160" width="5" height="1" fill="#000"/>
<rect x="10" y="160" width="1" height="8" fill="#000"/>
<rect x="8" y="160" width="5" height="6" fill="#000"/>
<rect x="18" y="165" width="1" height="9" fill="#000"/>
<rect x="16" y="165" width="5" height="7" fill="#000"/>
<rect x="26" y="167" width="1" height="6" fill="#000"/>
<rect x="24" y="171" width="5" height="1" fill="#000"/>
<rect x="34" y="168" width="1" height="6" fill="#000"/>
<rect x="32" y="170" width="5" height="2" fill="#000"/>
<rect x="42" y="160" width="1" height="12" fill="#000"/>
<rect x="40.5" y="166.5" width="4" height="4" fill="#fff" stroke="#000" stroke-width="1"/>
<rect x="50" y="162" width="1" height="7" fill="#000"/>
<rect x="48.5" y="164.5" width="4" height="2" fill="#fff" stroke="#000" stroke-width="1"/>
<rect x="58" y="160" width="1" height="5" fill="#000"/>
<rect x="56.5" y="161.5" width="4" height="2" fill="#fff" stroke="#000" stroke-width="1"/>
<rect x="66" y="152" width="1" height="13" fill="#000"/>
<rect x="64.5" y="155.5" width="4" height="6" fill="#fff" stroke="#000" stroke-width="1"/>
<rect x="74" y="151" width="1" height="7" fill="#000"/>
<rect x="72.5" y="152.5" width="4" height="2" fill="#fff" stroke="#000" stroke-width="1"/>
<rect x="82" y="137" width="1" height="18" fill="#000"/>
<rect x="80.5" y="137.5" width="4" height="15" fill="#fff" stroke="#000" stroke-width="1"/>
<rect x="90" y="113" width="1" height="26" fill="#000"/>
<rect x="88.5" y="113.5" width="4" height="24" fill="#fff" stroke="#000" stroke-width="1"/>
<rect x="98" y="113" width="1" height="3" fill="#000"/>
<rect x="96" y="113" width="5" height="1" fill="#000"/>
<rect x="218" y="83" width="1" height="5" fill="#000"/>
<rect x="218" y="86" width="3" height="1" fill="#000"/>
<rect x="226" y="86" width="1" height="17" fill="#000"/>
<rect x="224" y="86" width="5" height="11" fill="#000"/>
<rect x="234" y="91" width="1" height="45" fill="#000"/>
<rect x="232" y="96" width="5" height="32" fill="#000"/>
<rect x="242" y="123" width="1" height="20" fill="#000"/>
<rect x="240.5" y="123.5" width="4" height="4" fill="#fff" stroke="#000" stroke-width="1"/>
<rect x="250" y="117" width="1" height="12" fill="#000"/>
<rect x="248.5" y="118.5" width="4" height="5" fill="#fff" stroke="#000" stroke-width="1"/>
<rect x="258" y="109" width="1" height="13" fill="#000"/>
<rect x="256" y="119" width="5" height="1" fill="#000"/>
<rect x="266" y="117" width="1" height="11" fill="#000"/>
<rect x="264" y="118" width="5" height="7" fill="#000"/>
<rect x="274" y="123" width="1" height="19" fill="#000"/>
<rect x="272" y="124" width="5" height="9" fill="#000"/>
<rect x="282" y="124" width="1" height="34" fill="#000"/>
<rect x="280" y="133" width="5" height="19" fill="#000"/>
<rect x="290" y="146" width="1" height="17" fill="#000"/>
<rect x="288" y="151" width="5" height="2" fill="#000"/>
<rect x="298" y="143" width="1" height="15" fill="#000"/>
<rect x="296.5" y="144.5" width="4" height="8" fill="#fff" stroke="#000" stroke-width="1"/>
<rect x="306" y="130" width="1" height="22" fill="#000"/>
<rect x="304.5" y="134.5" width="4" height="8" fill="#fff" stroke="#000" stroke-width="1"/>
<rect x="314" y="134" width="1" height="10" fill="#000"/>
<rect x="312" y="135" width="5" height="1" fill="#000"/>
<rect x="322" y="130" width="1" height="22" fill="#000"/>
<rect x="320" y="136" width="5" height="1" fill="#000"/>
<rect x="330" y="125" width="1" height="14" fill="#000"/>
<rect x="328.5" y="131.5" width="4" height="4" fill="#fff" stroke="#000" stroke-width="1"/>
<rect x="338" y="130" width="1" height="20" fill="#000"/>
<rect x="336" y="131" width="5" height="18" fill="#000"/>
<rect x="346" y="135" width="1" height="13" fill="#000"/>
<rect x="344.5" y="141.5" width="4" height="6" fill="#fff" stroke="#000" stroke-width="1"/>
<rect x="354" y="139" width="1" height="11" fill="#000"/>
<rect x="352" y="140" width="5" height="8" fill="#000"/>
<rect x="362" y="145" width="1" height="15" fill="#000"/>
<rect x="360" y="147" width="5" height="7" fill="#000"/>
<rect x="370" y="146" width="1" height="19" fill="#000"/>
<rect x="368" y="153" width="5" height="7" fill="#000"/>
<rect x="378" y="156" width="1" height="17" fill="#000"/>
<rect x="376.5" y="158.5" width="4" height="2" fill="#fff" stroke="#000" stroke-width="1"/>
<rect x="386" y="141" width="1" height="24" fill="#000"/>
<rect x="384" y="157" width="5" height="4" fill="#000"/>
<rect x="394" y="155" width="1" height="28" fill="#000"/>
<rect x="392" y="160" width="5" height="16" fill="#000"/>
<rect x="402" y="173" width="1" height="36" fill="#000"/>
<rect x="400" y="174" width="5" height="24" fill="#000"/>
<rect x="410" y="195" width="1" height="19" fill="#000"/>
<rect x="408" y="197" width="5" height="14" fill="#000"/>
<rect x="418" y="205" width="1" height="22" fill="#000"/>
<rect x="416" y="211" width="5" height="8" fill="#000"/>
<rect x="426" y="210" width="1" height="52" fill="#000"/>
<rect x="424" y="218" width="5" height="37" fill="#000"/>
<rect x="434" y="227" width="1" height="35" fill="#000"/>
<rect x="432" y="253" width="5" height="5" fill="#000"/>
<rect x="442" y="261" width="1" height="20" fill="#000"/>
<rect x="440.5" y="265.5" width="4" height="14" fill="#fff" stroke="#000" stroke-width="1"/>
<rect x="450" y="233" width="1" height="39" fill="#000"/>
<rect x="448.5" y="239.5" width="4" height="23" fill="#fff" stroke="#000" stroke-width="1"/>
<rect x="458" y="223" width="1" height="25" fill="#000"/>
<rect x="456.5" y="229.5" width="4" height="11" fill="#fff" stroke="#000" stroke-width="1"/>
<rect x="466" y="228" width="1" height="45" fill="#000"/>
<rect x="464" y="229" width="5" height="42" fill="#000"/>
<rect x="474" y="252" width="1" height="27" fill="#000"/>
<rect x="472.5" y="254.5" width="4" height="16" fill="#fff" stroke="#000" stroke-width="1"/>
<rect x="482" y="244" width="1" height="21" fill="#000"/>
<rect x="480" y="254" width="5" height="4" fill="#000"/>
<rect x="490" y="225" width="1" height="33" fill="#000"/>
<rect x="488.5" y="226.5" width="4" height="31" fill="#fff" stroke="#000" stroke-width="1"/>
<rect x="498" y="227" width="1" height="28" fill="#000"/>
<rect x="496" y="228" width="5" height="23" fill="#000"/>
<rect x="506" y="248" width="1" height="19" fill="#000"/>
<rect x="504.5" y="248.5" width="4" height="2" fill="#fff" stroke="#000" stroke-width="1"/>
<rect x="514" y="244" width="1" height="14" fill="#000"/>
<rect x="512" y="248" width="5" height="6" fill="#000"/>
<rect x="522" y="248" width="1" height="42" fill="#000"/>
<rect x="520" y="253" width="5" height="19" fill="#000"/>
<rect x="530" y="270" width="1" height="30" fill="#000"/>
<rect x="528" y="271" width="5" height="16" fill="#000"/>
<rect x="538" y="280" width="1" height="24" fill="#000"/>
<rect x="536" y="285" width="5" height="9" fill="#000"/>
<rect x="546" y="273" width="1" height="23" fill="#000"/>
<rect x="544.5" y="277.5" width="4" height="16" fill="#fff" stroke="#000" stroke-width="1"/>
<rect x="554" y="265" width="1" height="17" fill="#000"/>
<rect x="552.5" y="272.5" width="4" height="5" fill="#fff" stroke="#000" stroke-width="1"/>
<rect x="562" y="270" width="1" height="12" fill="#000"/>
<rect x="560" y="272" width="5" height="2" fill="#000"/>
<rect x="570" y="266" width="1" height="25" fill="#000"/>
<rect x="568" y="274" width="5" height="11" fill="#000"/>
<rect x="578" y="271" width="1" height="16" fill="#000"/>
<rect x="576.5" y="281.5" width="4" height="3" fill="#fff" stroke="#000" stroke-width="1"/>
<rect x="586" y="262" width="1" height="21" fill="#000"/>
<rect x="584.5" y="263.5" width="4" height="19" fill="#fff" stroke="#000" stroke-width="1"/>
<rect x="594" y="265" width="1" height="20" fill="#000"/>
<rect x="592" y="267" width="5" height="16" fill="#000"/>
<rect x="602" y="276" width="1" height="13" fill="#000"/>
<rect x="600.5" y="280.5" width="4" height="2" fill="#fff" stroke="#000" stroke-width="1"/>
<rect x="610" y="279" width="1" height="28" fill="#000"/>
<rect x="608" y="279" width="5" height="23" fill="#000"/>
<rect x="618" y="299" width="1" height="15" fill="#000"/>
<rect x="616" y="301" width="5" height="12" fill="#000"/>
<rect x="626" y="307" width="1" height="26" fill="#000"/>
<rect x="624" y="312" width="5" height="13" fill="#000"/>
<rect x="634" y="321" width="1" height="24" fill="#000"/>
<rect x="632" y="324" width="5" height="8" fill="#000"/>
<rect x="642" y="327" width="1" height="27" fill="#000"/>
<rect x="640" y="331" width="5" height="22" fill="#000"/>
<rect x="650" y="340" width="1" height="15" fill="#000"/>
<rect x="648" y="353" width="5" height="1" fill="#000"/>
<rect x="658" y="346" width="1" height="45" fill="#000"/>
<rect x="656" y="352" width="5" height="26" fill="#000"/>
<rect x="666" y="355" width="1" height="35" fill="#000"/>
<rect x="664.5" y="373.5" width="4" height="4" fill="#fff" stroke="#000" stroke-width="1"/>
<rect x="674" y="360" width="1" height="23" fill="#000"/>
<rect x="672" y="373" width="5" height="8" fill="#000"/>
<rect x="682" y="424" width="1" height="26" fill="#000"/>
<rect x="680.5" y="439.5" width="4" height="10" fill="#fff" stroke="#000" stroke-width="1"/>
<rect x="690" y="423" width="1" height="128" fill="#000"/>
<rect x="688" y="437" width="5" height="71" fill="#000"/>
<rect x="698" y="488" width="1" height="50" fill="#000"/>
<rect x="696" y="507" width="5" height="10" fill="#000"/>
<rect x="706" y="491" width="1" height="33" fill="#000"/>
<rect x="704" y="517" width="5" height="1" fill="#000"/>
<rect x="714" y="499" width="1" height="68" fill="#000"/>
<rect x="712.5" y="505.5" width="4" height="10" fill="#fff" stroke="#000" stroke-width="1"/>
<rect x="722" y="501" width="1" height="30" fill="#000"/>
<rect x="720" y="505" width="5" height="7" fill="#000"/>
<rect x="730" y="471" width="1" height="58" fill="#000"/>
<rect x="728.5" y="478.5" width="4" height="33" fill="#fff" stroke="#000" stroke-width="1"/>
<rect x="738" y="444" width="1" height="53" fill="#000"/>
<rect x="736.5" y="450.5" width="4" height="27" fill="#fff" stroke="#000" stroke-width="1"/>
<rect x="746" y="389" width="1" height="65" fill="#000"/>
<rect x="744.5" y="443.5" width="4" height="6" fill="#fff" stroke="#000" stroke-width="1"/>
<rect x="754" y="379" width="1" height="70" fill="#000"/>
<rect x="752.5" y="405.5" width="4" height="36" fill="#fff" stroke="#000" stroke-width="1"/>
<rect x="762" y="404" width="1" height="69" fill="#000"/>
<rect x="760" y="405" width="5" height="46" fill="#000"/>
<rect x="770" y="347" width="1" height="104" fill="#000"/>
<rect x="768.5" y="365.5" width="4" height="85" fill="#fff" stroke="#000" stroke-width="1"/>
<rect x="778" y="359" width="1" height="40" fill="#000"/>
<rect x="776" y="366" width="5" height="22" fill="#000"/>
<rect x="786" y="378" width="1" height="30" fill="#000"/>
<rect x="784" y="389" width="5" height="13" fill="#000"/>
<rect x="794" y="386" width="1" height="46" fill="#000"/>
<rect x="792.5" y="388.5" width="4" height="12" fill="#fff" stroke="#000" stroke-width="1"/>
<rect x="802" y="374" width="1" height="34" fill="#000"/>
<rect x="800" y="388" width="5" height="14" fill="#000"/>
<rect x="810" y="388" width="1" height="31" fill="#000"/>
<rect x="808.5" y="398.5" width="4" height="4" fill="#fff" stroke="#000" stroke-width="1"/>
<rect x="818" y="383" width="1" height="43" fill="#000"/>
<rect x="816" y="398" width="5" height="6" fill="#000"/>
<rect x="826" y="398" width="1" height="21" fill="#000"/>
<rect x="824" y="403" width="5" height="9" fill="#000"/>
<rect x="834" y="402" width="1" height="77" fill="#000"/>
<rect x="832" y="408" width="5" height="58" fill="#000"/>
<rect x="842" y="423" width="1" height="42" fill="#000"/>
<rect x="840.5" y="451.5" width="4" height="13" fill="#fff" stroke="#000" stroke-width="1"/>
<rect x="850" y="434" width="1" height="25" fill="#000"/>
<rect x="848.5" y="449.5" width="4" height="2" fill="#fff" stroke="#000" stroke-width="1"/>
<rect x="858" y="350" width="1" height="109" fill="#000"/>
<rect x="856.5" y="358.5" width="4" height="89" fill="#fff" stroke="#000" stroke-width="1"/>
<rect x="866" y="338" width="1" height="59" fill="#000"/>
<rect x="864" y="359" width="5" height="16" fill="#000"/>
<rect x="874" y="373" width="1" height="40" fill="#000"/>
<rect x="872" y="374" width="5" height="32" fill="#000"/>
<rect x="882" y="376" width="1" height="28" fill="#000"/>
<rect x="880.5" y="392.5" width="4" height="11" fill="#fff" stroke="#000" stroke-width="1"/>
<rect x="890" y="342" width="1" height="52" fill="#000"/>
<rect x="888.5" y="351.5" width="4" height="41" fill="#fff" stroke="#000" stroke-width="1"/>
<rect x="898" y="301" width="1" height="54" fill="#000"/>
<rect x="896.5" y="302.5" width="4" height="48" fill="#fff" stroke="#000" stroke-width="1"/>
<rect x="906" y="274" width="1" height="38" fill="#000"/>
<rect x="904.5" y="290.5" width="4" height="11" fill="#fff" stroke="#000" stroke-width="1"/>
<rect x="914" y="241" width="1" height="57" fill="#000"/>
<rect x="912.5" y="243.5" width="4" height="47" fill="#fff" stroke="#000" stroke-width="1"/>
<rect x="922" y="304" width="1" height="53" fill="#000"/>
<rect x="920.5" y="320.5" width="4" height="4" fill="#fff" stroke="#000" stroke-width="1"/>
<rect x="930" y="270" width="1" height="60" fill="#000"/>
<rect x="928.5" y="303.5" width="4" height="16" fill="#fff" stroke="#000" stroke-width="1"/>
<rect x="938" y="284" width="1" height="53" fill="#000"/>
<rect x="936" y="303" width="5" height="13" fill="#000"/>
<rect x="946" y="311" width="1" height="47" fill="#000"/>
<rect x="944" y="315" width="5" height="43" fill="#000"/>
<rect x="954" y="321" width="1" height="62" fill="#000"/>
<rect x="952" y="357" width="5" height="1" fill="#000"/>
<rect x="962" y="322" width="1" height="40" fill="#000"/>
<rect x="960.5" y="351.5" width="4" height="6" fill="#fff" stroke="#000" stroke-width="1"/>
<rect x="970" y="327" width="1" height="26" fill="#000"/>
<rect x="968.5" y="333.5" width="4" height="17" fill="#fff" stroke="#000" stroke-width="1"/>
<rect x="978" y="288" width="1" height="52" fill="#000"/>
<rect x="976.5" y="320.5" width="4" height="12" fill="#fff" stroke="#000" stroke-width="1"/>
<rect x="986" y="301" width="1" height="32" fill="#000"/>
<rect x="984.5" y="301.5" width="4" height="18" fill="#fff" stroke="#000" stroke-width="1"/>
<rect x="994" y="290" width="1" height="40" fill="#000"/>
<rect x="992" y="302" width="5" height="7" fill="#000"/>
<rect x="1002" y="269" width="1" height="42" fill="#000"/>
<rect x="1000.5" y="278.5" width="4" height="30" fill="#fff" stroke="#000" stroke-width="1"/>
<rect x="1010" y="256" width="1" height="31" fill="#000"/>
<rect x="1008.5" y="266.5" width="4" height="11" fill="#fff" stroke="#000" stroke-width="1"/>
<rect x="1018" y="262" width="1" height="26" fill="#000"/>
<rect x="1016" y="265" width="5" height="15" fill="#000"/>
<rect x="1026" y="270" width="1" height="25" fill="#000"/>
<rect x="1024" y="280" width="5" height="12" fill="#000"/>
<rect x="1034" y="277" width="1" height="32" fill="#000"/>
<rect x="1032.5" y="278.5" width="4" height="12" fill="#fff" stroke="#000" stroke-width="1"/>
<rect x="1042" y="268" width="1" height="25" fill="#000"/>
<rect x="1040" y="277" width="5" height="8" fill="#000"/>
<rect x="1050" y="227" width="1" height="56" fill="#000"/>
<rect x="1048.5" y="230.5" width="4" height="52" fill="#fff" stroke="#000" stroke-width="1"/>
<rect x="1058" y="220" width="1" height="43" fill="#000"/>
<rect x="1056" y="230" width="5" height="15" fill="#000"/>
<rect x="1066" y="231" width="1" height="22" fill="#000"/>
<rect x="1064.5" y="233.5" width="4" height="11" fill="#fff" stroke="#000" stroke-width="1"/>
<rect x="1074" y="181" width="1" height="61" fill="#000"/>
<rect x="1072.5" y="190.5" width="4" height="44" fill="#fff" stroke="#000" stroke-width="1"/>
<rect x="1082" y="178" width="1" height="52" fill="#000"/>
<rect x="1080" y="191" width="5" height="7" fill="#000"/>
<rect x="1090" y="159" width="1" height="54" fill="#000"/>
<rect x="1088.5" y="163.5" width="4" height="32" fill="#fff" stroke="#000" stroke-width="1"/>
<rect x="1098" y="149" width="1" height="32" fill="#000"/>
<rect x="1096.5" y="155.5" width="4" height="7" fill="#fff" stroke="#000" stroke-width="1"/>
<rect x="1106" y="113" width="1" height="45" fill="#000"/>
<rect x="1104.5" y="123.5" width="4" height="31" fill="#fff" stroke="#000" stroke-width="1"/>
<rect x="1114" y="94" width="1" height="44" fill="#000"/>
<rect x="1112.5" y="98.5" width="4" height="24" fill="#fff" stroke="#000" stroke-width="1"/>
<rect x="1122" y="95" width="1" height="64" fill="#000"/>
<rect x="1120" y="96" width="5" height="54" fill="#000"/>
<rect x="1130" y="146" width="1" height="44" fill="#000"/>
<rect x="1128" y="149" width="5" height="32" fill="#000"/>
<rect x="1138" y="144" width="1" height="38" fill="#000"/>
<rect x="1136.5" y="153.5" width="4" height="27" fill="#fff" stroke="#000" stroke-width="1"/>
<rect x="1146" y="93" width="1" height="70" fill="#000"/>
<rect x="1144.5" y="98.5" width="4" height="53" fill="#fff" stroke="#000" stroke-width="1"/>
<rect x="1154" y="87" width="1" height="32" fill="#000"/>
<rect x="1152" y="96" width="5" height="8" fill="#000"/>
<rect x="1162" y="107" width="1" height="38" fill="#000"/>
<rect x="1160" y="108" width="5" height="33" fill="#000"/>
<rect x="1170" y="121" width="1" height="38" fill="#000"/>
<rect x="1168" y="139" width="5" height="6" fill="#000"/>
<rect x="1178" y="144" width="1" height="30" fill="#000"/>
<rect x="1176" y="145" width="5" height="1" fill="#000"/>
<rect x="1186" y="116" width="1" height="39" fill="#000"/>
<rect x="1184.5" y="120.5" width="4" height="27" fill="#fff" stroke="#000" stroke-width="1"/>
<rect x="1194" y="94" width="1" height="73" fill="#000"/>
<rect x="1192.5" y="95.5" width="4" height="24" fill="#fff" stroke="#000" stroke-width="1"/>
<rect x="1202" y="83" width="1" height="23" fill="#000"/>
<rect x="1200" y="95" width="5" height="3" fill="#000"/>
<rect x="1210" y="95" width="1" height="27" fill="#000"/>
<rect x="1208" y="97" width="5" height="24" fill="#000"/>
<rect x="1218" y="112" width="1" height="42" fill="#000"/>
<rect x="1216" y="120" width="5" height="24" fill="#000"/>
<rect x="1226" y="125" width="1" height="27" fill="#000"/>
<rect x="1224.5" y="133.5" width="4" height="9" fill="#fff" stroke="#000" stroke-width="1"/>
<rect x="1234" y="114" width="1" height="31" fill="#000"/>
<rect x="1232.5" y="118.5" width="4" height="14" fill="#fff" stroke="#000" stroke-width="1"/>
<rect x="1242" y="88" width="1" height="43" fill="#000"/>
<rect x="1240.5" y="90.5" width="4" height="27" fill="#fff" stroke="#000" stroke-width="1"/>
<rect x="1250" y="78" width="1" height="20" fill="#000"/>
<rect x="1248.5" y="88.5" width="4" height="2" fill="#fff" stroke="#000" stroke-width="1"/>
<rect x="1258" y="86" width="1" height="24" fill="#000"/>
<rect x="1256" y="88" width="5" height="18" fill="#000"/>
<rect x="1266" y="98" width="1" height="26" fill="#000"/>
<rect x="1264" y="106" width="5" height="1" fill="#000"/>
<rect x="1274" y="88" width="1" height="21" fill="#000"/>
<rect x="1272.5" y="89.5" width="4" height="17" fill="#fff" stroke="#000" stroke-width="1"/>
<rect x="1282" y="85" width="1" height="24" fill="#000"/>
<rect x="1280" y="89" width="5" height="11" fill="#000"/>
<rect x="1290" y="80" width="1" height="21" fill="#000"/>
<rect x="1288.5" y="93.5" width="4" height="6" fill="#fff" stroke="#000" stroke-width="1"/>
<rect x="1298" y="83" width="1" height="25" fill="#000"/>
<rect x="1296" y="91" width="5" height="13" fill="#000"/>
<rect x="1306" y="103" width="1" height="17" fill="#000"/>
<rect x="1304" y="103" width="5" height="17" fill="#000"/>
<rect x="1314" y="113" width="1" height="24" fill="#000"/>
<rect x="1312" y="113" width="5" height="13" fill="#000"/>
<rect x="1322" y="118" width="1" height="23" fill="#000"/>
<rect x="1320" y="125" width="5" height="12" fill="#000"/>
<rect x="1330" y="133" width="1" height="45" fill="#000"/>
<rect x="1328" y="135" width="5" height="36" fill="#000"/>
<rect x="1338" y="154" width="1" height="35" fill="#000"/>
<rect x="1336" y="170" width="5" height="13" fill="#000"/>
<rect x="1346" y="168" width="1" height="27" fill="#000"/>
<rect x="1344" y="182" width="5" height="5" fill="#000"/>
<rect x="1354" y="175" width="1" height="26" fill="#000"/>
<rect x="1352" y="186" width="5" height="13" fill="#000"/>
<rect x="1362" y="186" width="1" height="47" fill="#000"/>
<rect x="1360" y="196" width="5" height="36" fill="#000"/>
<rect x="1370" y="204" width="1" height="30" fill="#000"/>
<rect x="1368.5" y="210.5" width="4" height="21" fill="#fff" stroke="#000" stroke-width="1"/>
<rect x="1378" y="201" width="1" height="26" fill="#000"/>
<rect x="1376" y="209" width="5" height="4" fill="#000"/>
<rect x="1386" y="208" width="1" height="42" fill="#000"/>
<rect x="1384" y="213" width="5" height="30" fill="#000"/>
<rect x="1394" y="241" width="1" height="20" fill="#000"/>
<rect x="1392" y="243" width="5" height="18" fill="#000"/>
<rect x="1349" y="234" width="67" height="9" fill="#00ff00"/>
</g>
</g>
<g clip-path="url(#cm)" shape-rendering="crispEdges">
<line x1="1299.7" y1="90" x2="1414" y2="309" stroke="#ff0000" stroke-width="3"/>
<polygon points="1418,317 1407.5,306.5 1412.2,306.2 1414.6,302.2" fill="#ff0000"/>
</g>
<polygon points="1403,28 1414,28 1408.5,33.5" fill="#c0c0c0"/>
<g font-family="Liberation Serif, Noto Serif CJK SC, serif" font-weight="600" font-size="31" letter-spacing="2">
<text x="1409" y="205" fill="#000020">多空转折点</text>
<text x="1408" y="204" fill="#00ff00">多空转折点</text>
</g>
<g shape-rendering="crispEdges">
<rect x="1499" y="236" width="8" height="1" fill="#ff0000"/>
<rect x="1506.5" y="234.5" width="2" height="3" fill="#fff" stroke="#ff0000" stroke-width="1"/>
<rect x="1509.5" y="224.5" width="73" height="24" fill="#fff" stroke="#ff0000" stroke-width="1"/>
</g>
<text x="1546" y="244.5" font-size="22.3" fill="#ff0000" stroke="#ff0000" stroke-width="0.35" text-anchor="middle" textLength="70" lengthAdjust="spacingAndGlyphs">108.293</text>
<g font-size="9" fill="#000">
<rect x="1604" y="49" width="2" height="1" fill="#000" shape-rendering="crispEdges"/>
<text x="1609" y="53" font-size="10" fill="#000" textLength="32.5" lengthAdjust="spacingAndGlyphs" xml:space="preserve" >112.330</text>
<rect x="1604" y="82" width="2" height="1" fill="#000" shape-rendering="crispEdges"/>
<text x="1609" y="86" font-size="10" fill="#000" textLength="31.8" lengthAdjust="spacingAndGlyphs" xml:space="preserve" >111.610</text>
<rect x="1604" y="115" width="2" height="1" fill="#000" shape-rendering="crispEdges"/>
<text x="1609" y="119" font-size="10" fill="#000" textLength="32.5" lengthAdjust="spacingAndGlyphs" xml:space="preserve" >110.910</text>
<rect x="1604" y="148" width="2" height="1" fill="#000" shape-rendering="crispEdges"/>
<text x="1609" y="152" font-size="10" fill="#000" textLength="32.5" lengthAdjust="spacingAndGlyphs" xml:space="preserve" >110.190</text>
<rect x="1604" y="247" width="2" height="1" fill="#000" shape-rendering="crispEdges"/>
<text x="1609" y="251" font-size="10" fill="#000" textLength="33.2" lengthAdjust="spacingAndGlyphs" xml:space="preserve" >108.050</text>
<rect x="1604" y="280" width="2" height="1" fill="#000" shape-rendering="crispEdges"/>
<text x="1609" y="284" font-size="10" fill="#000" textLength="33.2" lengthAdjust="spacingAndGlyphs" xml:space="preserve" >107.350</text>
<rect x="1604" y="346" width="2" height="1" fill="#000" shape-rendering="crispEdges"/>
<text x="1609" y="350" font-size="10" fill="#000" textLength="33.2" lengthAdjust="spacingAndGlyphs" xml:space="preserve" >105.930</text>
<rect x="1604" y="379" width="2" height="1" fill="#000" shape-rendering="crispEdges"/>
<text x="1609" y="383" font-size="10" fill="#000" textLength="33.2" lengthAdjust="spacingAndGlyphs" xml:space="preserve" >105.210</text>
<rect x="1604" y="412" width="2" height="1" fill="#000" shape-rendering="crispEdges"/>
<text x="1609" y="416" font-size="10" fill="#000" textLength="33.2" lengthAdjust="spacingAndGlyphs" xml:space="preserve" >104.510</text>
<rect x="1604" y="445" width="2" height="1" fill="#000" shape-rendering="crispEdges"/>
<text x="1609" y="449" font-size="10" fill="#000" textLength="33.2" lengthAdjust="spacingAndGlyphs" xml:space="preserve" >103.790</text>
<rect x="1604" y="478" width="2" height="1" fill="#000" shape-rendering="crispEdges"/>
<text x="1609" y="482" font-size="10" fill="#000" textLength="33.2" lengthAdjust="spacingAndGlyphs" xml:space="preserve" >103.070</text>
<rect x="1604" y="511" width="2" height="1" fill="#000" shape-rendering="crispEdges"/>
<text x="1609" y="515" font-size="10" fill="#000" textLength="33.2" lengthAdjust="spacingAndGlyphs" xml:space="preserve" >102.370</text>
<rect x="1604" y="544" width="2" height="1" fill="#000" shape-rendering="crispEdges"/>
<text x="1609" y="548" font-size="10" fill="#000" textLength="33.2" lengthAdjust="spacingAndGlyphs" xml:space="preserve" >101.650</text>
<rect x="1604" y="577" width="2" height="1" fill="#000" shape-rendering="crispEdges"/>
<text x="1609" y="581" font-size="10" fill="#000" textLength="33.2" lengthAdjust="spacingAndGlyphs" xml:space="preserve" >100.950</text>
<text x="1607" y="593" font-size="10" fill="#000" textLength="23.0" lengthAdjust="spacingAndGlyphs" xml:space="preserve" >1.331</text>
 <rect x="1604" y="660" width="2" height="1" fill="#000" shape-rendering="crispEdges"/>
<text x="1609" y="663.5" font-size="10" fill="#000" textLength="17.9" lengthAdjust="spacingAndGlyphs" xml:space="preserve" >0.00</text>
<text x="1607" y="749" font-size="10" fill="#000" textLength="31.1" lengthAdjust="spacingAndGlyphs" xml:space="preserve" >-1.5997</text>
<text x="1607" y="765" font-size="10" fill="#000" textLength="15.3" lengthAdjust="spacingAndGlyphs" xml:space="preserve" >100</text>
<text x="1606" y="794" font-size="10" fill="#000" textLength="10.2" lengthAdjust="spacingAndGlyphs" xml:space="preserve" >80</text>
<text x="1606" y="845" font-size="10" fill="#000" textLength="10.2" lengthAdjust="spacingAndGlyphs" xml:space="preserve" >50</text>
<text x="1606" y="905.5" font-size="10" fill="#000" textLength="10.2" lengthAdjust="spacingAndGlyphs" xml:space="preserve" >15</text>
<text x="1607" y="924.5" font-size="10" fill="#000" textLength="5.1" lengthAdjust="spacingAndGlyphs" xml:space="preserve" >0</text>
</g>
<rect x="1605" y="177" width="41" height="11" fill="#ff0000" shape-rendering="crispEdges"/><rect x="1598.5" y="181.5" width="4" height="4" fill="#fff" stroke="#ff0000" stroke-width="1" shape-rendering="crispEdges"/><text x="1609" y="186" font-size="10" fill="#fff" textLength="33.2" lengthAdjust="spacingAndGlyphs" xml:space="preserve" >109.434</text>
<rect x="1605" y="207" width="41" height="11" fill="#ff0000" shape-rendering="crispEdges"/><rect x="1598.5" y="211.5" width="4" height="4" fill="#fff" stroke="#ff0000" stroke-width="1" shape-rendering="crispEdges"/><text x="1609" y="216" font-size="10" fill="#fff" textLength="33.2" lengthAdjust="spacingAndGlyphs" xml:space="preserve" >108.788</text>
<rect x="1605" y="230" width="41" height="11" fill="#32cd32" shape-rendering="crispEdges"/><rect x="1598.5" y="234.5" width="4" height="4" fill="#fff" stroke="#32cd32" stroke-width="1" shape-rendering="crispEdges"/><text x="1609" y="239" font-size="10" fill="#fff" textLength="33.2" lengthAdjust="spacingAndGlyphs" xml:space="preserve" >108.293</text>
<rect x="1605" y="282" width="41" height="11" fill="#0000ff" shape-rendering="crispEdges"/><rect x="1598.5" y="286.5" width="4" height="4" fill="#fff" stroke="#0000ff" stroke-width="1" shape-rendering="crispEdges"/><text x="1609" y="291" font-size="10" fill="#fff" textLength="33.2" lengthAdjust="spacingAndGlyphs" xml:space="preserve" >107.174</text>
<rect x="1605" y="310" width="41" height="11" fill="#0000ff" shape-rendering="crispEdges"/><rect x="1598.5" y="314.5" width="4" height="4" fill="#fff" stroke="#0000ff" stroke-width="1" shape-rendering="crispEdges"/><text x="1609" y="319" font-size="10" fill="#fff" textLength="33.2" lengthAdjust="spacingAndGlyphs" xml:space="preserve" >106.572</text>
<rect x="1605" y="255" width="41" height="11" fill="#000000" shape-rendering="crispEdges"/><text x="1609" y="264" font-size="10" fill="#fff" textLength="33.2" lengthAdjust="spacingAndGlyphs" xml:space="preserve" >107.771</text>
<polygon points="0,33 5,38.5 0,38.5" fill="#000"/>
<text x="9" y="39.5" font-size="10" fill="#000" textLength="200.1" lengthAdjust="spacingAndGlyphs" xml:space="preserve" >USDJPY-,H4  108.153 108.188 107.749 107.771</text>
<g shape-rendering="crispEdges">
<rect x="82" y="656" width="1" height="5" fill="#c0c0c0"/>
<rect x="90" y="652" width="1" height="9" fill="#c0c0c0"/>
<rect x="98" y="646" width="1" height="15" fill="#c0c0c0"/>
<rect x="106" y="643" width="1" height="18" fill="#c0c0c0"/>
<rect x="114" y="640" width="1" height="21" fill="#c0c0c0"/>
<rect x="122" y="637" width="1" height="24" fill="#c0c0c0"/>
<rect x="130" y="634" width="1" height="27" fill="#c0c0c0"/>
<rect x="138" y="631" width="1" height="30" fill="#c0c0c0"/>
<rect x="146" y="629" width="1" height="32" fill="#c0c0c0"/>
<rect x="154" y="628" width="1" height="33" fill="#c0c0c0"/>
<rect x="162" y="627" width="1" height="34" fill="#c0c0c0"/>
<rect x="170" y="628" width="1" height="33" fill="#c0c0c0"/>
<rect x="178" y="629" width="1" height="32" fill="#c0c0c0"/>
<rect x="186" y="631" width="1" height="30" fill="#c0c0c0"/>
<rect x="194" y="633" width="1" height="28" fill="#c0c0c0"/>
<rect x="202" y="635" width="1" height="26" fill="#c0c0c0"/>
<rect x="210" y="638" width="1" height="23" fill="#c0c0c0"/>
<rect x="218" y="639" width="1" height="22" fill="#c0c0c0"/>
<rect x="226" y="642" width="1" height="19" fill="#c0c0c0"/>
<rect x="234" y="648" width="1" height="13" fill="#c0c0c0"/>
<rect x="242" y="652" width="1" height="9" fill="#c0c0c0"/>
<rect x="250" y="654" width="1" height="7" fill="#c0c0c0"/>
<rect x="258" y="657" width="1" height="4" fill="#c0c0c0"/>
<rect x="266" y="659" width="1" height="2" fill="#c0c0c0"/>
<rect x="274" y="660" width="1" height="1" fill="#c0c0c0"/>
<rect x="282" y="660" width="1" height="5" fill="#c0c0c0"/>
<rect x="290" y="660" width="1" height="8" fill="#c0c0c0"/>
<rect x="298" y="660" width="1" height="9" fill="#c0c0c0"/>
<rect x="306" y="660" width="1" height="10" fill="#c0c0c0"/>
<rect x="314" y="660" width="1" height="10" fill="#c0c0c0"/>
<rect x="322" y="660" width="1" height="10" fill="#c0c0c0"/>
<rect x="330" y="660" width="1" height="9" fill="#c0c0c0"/>
<rect x="338" y="660" width="1" height="9" fill="#c0c0c0"/>
<rect x="346" y="660" width="1" height="9" fill="#c0c0c0"/>
<rect x="354" y="660" width="1" height="10" fill="#c0c0c0"/>
<rect x="362" y="660" width="1" height="11" fill="#c0c0c0"/>
<rect x="370" y="660" width="1" height="12" fill="#c0c0c0"/>
<rect x="378" y="660" width="1" height="12" fill="#c0c0c0"/>
<rect x="386" y="660" width="1" height="13" fill="#c0c0c0"/>
<rect x="394" y="660" width="1" height="16" fill="#c0c0c0"/>
<rect x="402" y="660" width="1" height="19" fill="#c0c0c0"/>
<rect x="410" y="660" width="1" height="23" fill="#c0c0c0"/>
<rect x="418" y="660" width="1" height="26" fill="#c0c0c0"/>
<rect x="426" y="660" width="1" height="32" fill="#c0c0c0"/>
<rect x="434" y="660" width="1" height="37" fill="#c0c0c0"/>
<rect x="442" y="660" width="1" height="41" fill="#c0c0c0"/>
<rect x="450" y="660" width="1" height="41" fill="#c0c0c0"/>
<rect x="458" y="660" width="1" height="39" fill="#c0c0c0"/>
<rect x="466" y="660" width="1" height="42" fill="#c0c0c0"/>
<rect x="474" y="660" width="1" height="42" fill="#c0c0c0"/>
<rect x="482" y="660" width="1" height="42" fill="#c0c0c0"/>
<rect x="490" y="660" width="1" height="38" fill="#c0c0c0"/>
<rect x="498" y="660" width="1" height="36" fill="#c0c0c0"/>
<rect x="506" y="660" width="1" height="35" fill="#c0c0c0"/>
<rect x="514" y="660" width="1" height="34" fill="#c0c0c0"/>
<rect x="522" y="660" width="1" height="35" fill="#c0c0c0"/>
<rect x="530" y="660" width="1" height="36" fill="#c0c0c0"/>
<rect x="538" y="660" width="1" height="37" fill="#c0c0c0"/>
<rect x="546" y="660" width="1" height="37" fill="#c0c0c0"/>
<rect x="554" y="660" width="1" height="36" fill="#c0c0c0"/>
<rect x="562" y="660" width="1" height="34" fill="#c0c0c0"/>
<rect x="570" y="660" width="1" height="34" fill="#c0c0c0"/>
<rect x="578" y="660" width="1" height="32" fill="#c0c0c0"/>
<rect x="586" y="660" width="1" height="29" fill="#c0c0c0"/>
<rect x="594" y="660" width="1" height="28" fill="#c0c0c0"/>
<rect x="602" y="660" width="1" height="27" fill="#c0c0c0"/>
<rect x="610" y="660" width="1" height="28" fill="#c0c0c0"/>
<rect x="618" y="660" width="1" height="30" fill="#c0c0c0"/>
<rect x="626" y="660" width="1" height="31" fill="#c0c0c0"/>
<rect x="634" y="660" width="1" height="33" fill="#c0c0c0"/>
<rect x="642" y="660" width="1" height="37" fill="#c0c0c0"/>
<rect x="650" y="660" width="1" height="39" fill="#c0c0c0"/>
<rect x="658" y="660" width="1" height="42" fill="#c0c0c0"/>
<rect x="666" y="660" width="1" height="44" fill="#c0c0c0"/>
<rect x="674" y="660" width="1" height="46" fill="#c0c0c0"/>
<rect x="682" y="660" width="1" height="53" fill="#c0c0c0"/>
<rect x="690" y="660" width="1" height="64" fill="#c0c0c0"/>
<rect x="698" y="660" width="1" height="73" fill="#c0c0c0"/>
<rect x="706" y="660" width="1" height="79" fill="#c0c0c0"/>
<rect x="714" y="660" width="1" height="82" fill="#c0c0c0"/>
<rect x="722" y="660" width="1" height="84" fill="#c0c0c0"/>
<rect x="730" y="660" width="1" height="81" fill="#c0c0c0"/>
<rect x="738" y="660" width="1" height="75" fill="#c0c0c0"/>
<rect x="746" y="660" width="1" height="69" fill="#c0c0c0"/>
<rect x="754" y="660" width="1" height="60" fill="#c0c0c0"/>
<rect x="762" y="660" width="1" height="56" fill="#c0c0c0"/>
<rect x="770" y="660" width="1" height="45" fill="#c0c0c0"/>
<rect x="778" y="660" width="1" height="37" fill="#c0c0c0"/>
<rect x="786" y="660" width="1" height="32" fill="#c0c0c0"/>
<rect x="794" y="660" width="1" height="27" fill="#c0c0c0"/>
<rect x="802" y="660" width="1" height="23" fill="#c0c0c0"/>
<rect x="810" y="660" width="1" height="20" fill="#c0c0c0"/>
<rect x="818" y="660" width="1" height="18" fill="#c0c0c0"/>
<rect x="826" y="660" width="1" height="16" fill="#c0c0c0"/>
<rect x="834" y="660" width="1" height="21" fill="#c0c0c0"/>
<rect x="842" y="660" width="1" height="22" fill="#c0c0c0"/>
<rect x="850" y="660" width="1" height="23" fill="#c0c0c0"/>
<rect x="858" y="660" width="1" height="15" fill="#c0c0c0"/>
<rect x="866" y="660" width="1" height="9" fill="#c0c0c0"/>
<rect x="874" y="660" width="1" height="8" fill="#c0c0c0"/>
<rect x="882" y="660" width="1" height="6" fill="#c0c0c0"/>
<rect x="890" y="660" width="1" height="1" fill="#c0c0c0"/>
<rect x="898" y="651" width="1" height="10" fill="#c0c0c0"/>
<rect x="906" y="643" width="1" height="18" fill="#c0c0c0"/>
<rect x="914" y="632" width="1" height="29" fill="#c0c0c0"/>
<rect x="922" y="631" width="1" height="30" fill="#c0c0c0"/>
<rect x="930" y="629" width="1" height="32" fill="#c0c0c0"/>
<rect x="938" y="629" width="1" height="32" fill="#c0c0c0"/>
<rect x="946" y="634" width="1" height="27" fill="#c0c0c0"/>
<rect x="954" y="638" width="1" height="23" fill="#c0c0c0"/>
<rect x="962" y="640" width="1" height="21" fill="#c0c0c0"/>
<rect x="970" y="641" width="1" height="20" fill="#c0c0c0"/>
<rect x="978" y="640" width="1" height="21" fill="#c0c0c0"/>
<rect x="986" y="638" width="1" height="23" fill="#c0c0c0"/>
<rect x="994" y="637" width="1" height="24" fill="#c0c0c0"/>
<rect x="1002" y="634" width="1" height="27" fill="#c0c0c0"/>
<rect x="1010" y="631" width="1" height="30" fill="#c0c0c0"/>
<rect x="1018" y="630" width="1" height="31" fill="#c0c0c0"/>
<rect x="1026" y="630" width="1" height="31" fill="#c0c0c0"/>
<rect x="1034" y="630" width="1" height="31" fill="#c0c0c0"/>
<rect x="1042" y="630" width="1" height="31" fill="#c0c0c0"/>
<rect x="1050" y="626" width="1" height="35" fill="#c0c0c0"/>
<rect x="1058" y="624" width="1" height="37" fill="#c0c0c0"/>
<rect x="1066" y="622" width="1" height="39" fill="#c0c0c0"/>
<rect x="1074" y="617" width="1" height="44" fill="#c0c0c0"/>
<rect x="1082" y="614" width="1" height="47" fill="#c0c0c0"/>
<rect x="1090" y="609" width="1" height="52" fill="#c0c0c0"/>
<rect x="1098" y="604" width="1" height="57" fill="#c0c0c0"/>
<rect x="1106" y="599" width="1" height="62" fill="#c0c0c0"/>
<rect x="1114" y="592" width="1" height="69" fill="#c0c0c0"/>
<rect x="1122" y="593" width="1" height="68" fill="#c0c0c0"/>
<rect x="1130" y="598" width="1" height="63" fill="#c0c0c0"/>
<rect x="1138" y="599" width="1" height="62" fill="#c0c0c0"/>
<rect x="1146" y="596" width="1" height="65" fill="#c0c0c0"/>
<rect x="1154" y="594" width="1" height="67" fill="#c0c0c0"/>
<rect x="1162" y="597" width="1" height="64" fill="#c0c0c0"/>
<rect x="1170" y="601" width="1" height="60" fill="#c0c0c0"/>
<rect x="1178" y="605" width="1" height="56" fill="#c0c0c0"/>
<rect x="1186" y="606" width="1" height="55" fill="#c0c0c0"/>
<rect x="1194" y="605" width="1" height="56" fill="#c0c0c0"/>
<rect x="1202" y="605" width="1" height="56" fill="#c0c0c0"/>
<rect x="1210" y="608" width="1" height="53" fill="#c0c0c0"/>
<rect x="1218" y="613" width="1" height="48" fill="#c0c0c0"/>
<rect x="1226" y="616" width="1" height="45" fill="#c0c0c0"/>
<rect x="1234" y="618" width="1" height="43" fill="#c0c0c0"/>
<rect x="1242" y="618" width="1" height="43" fill="#c0c0c0"/>
<rect x="1250" y="617" width="1" height="44" fill="#c0c0c0"/>
<rect x="1258" y="619" width="1" height="42" fill="#c0c0c0"/>
<rect x="1266" y="621" width="1" height="40" fill="#c0c0c0"/>
<rect x="1274" y="622" width="1" height="39" fill="#c0c0c0"/>
<rect x="1282" y="623" width="1" height="38" fill="#c0c0c0"/>
<rect x="1290" y="624" width="1" height="37" fill="#c0c0c0"/>
<rect x="1298" y="627" width="1" height="34" fill="#c0c0c0"/>
<rect x="1306" y="630" width="1" height="31" fill="#c0c0c0"/>
<rect x="1314" y="634" width="1" height="27" fill="#c0c0c0"/>
<rect x="1322" y="639" width="1" height="22" fill="#c0c0c0"/>
<rect x="1330" y="646" width="1" height="15" fill="#c0c0c0"/>
<rect x="1338" y="653" width="1" height="8" fill="#c0c0c0"/>
<rect x="1346" y="659" width="1" height="2" fill="#c0c0c0"/>
<rect x="1354" y="660" width="1" height="4" fill="#c0c0c0"/>
<rect x="1362" y="660" width="1" height="10" fill="#c0c0c0"/>
<rect x="1370" y="660" width="1" height="14" fill="#c0c0c0"/>
<rect x="1378" y="660" width="1" height="18" fill="#c0c0c0"/>
<rect x="1386" y="660" width="1" height="24" fill="#c0c0c0"/>
<rect x="1394" y="660" width="1" height="29" fill="#c0c0c0"/>
<path d="M476 697.5h3M536 697.5h3M542 697.5h3M548 697.5h3M554 697.5h3M560 697.5h2M674 697.5h2M902 668.5h2M458 690.5h2M1148 598.5h3M1184 598.5h3M620 691.5h3M626 691.5h3M632 691.5h3M638 691.5h3M644 691.5h2M998 636.5h3M1004 636.5h3M1010 636.5h3M1016 636.5h2M494 700.5h3M500 700.5h3M506 700.5h3M812 700.5h2M326 665.5h2M162 635.5h2M234 635.5h2M963 635.5h2M968 635.5h3M974 635.5h3M980 635.5h3M986 635.5h3M992 635.5h2M1022 635.5h3M1028 635.5h2M102 655.5h2M289 655.5h2M1280 618.5h3M404 674.5h3M410 674.5h2M884 674.5h3M338 669.5h3M344 669.5h3M350 669.5h3M90 657.5h3M920 657.5h2M470 695.5h3M578 695.5h3M584 695.5h3M662 695.5h3M819 695.5h2M1310 623.5h3M332 667.5h2M1262 613.5h2M192 629.5h3M198 629.5h3M204 629.5h2M1058 629.5h3M1328 629.5h3M258 642.5h2M945 642.5h2M133 645.5h2M265 645.5h2M939 645.5h2M0 660.5h3M6 660.5h3M12 660.5h3M18 660.5h3M24 660.5h3M30 660.5h3M36 660.5h3M42 660.5h3M48 660.5h3M54 660.5h3M60 660.5h3M66 660.5h3M72 660.5h3M78 660.5h3M300 660.5h3M915 660.5h2M1107 614.5h2M746 733.5h2M842 684.5h3M435 682.5h2M854 682.5h2M1244 610.5h3M186 630.5h3M210 630.5h2M1052 630.5h3M465 693.5h2M602 693.5h3M608 693.5h3M108 653.5h3M1371 653.5h2M1076 626.5h2M488 699.5h3M512 699.5h3M518 699.5h3M524 699.5h2M680 699.5h3M145 640.5h2M950 640.5h3M1352 640.5h2M156 637.5h2M957 637.5h2M1347 637.5h2M740 732.5h3M764 732.5h3M428 680.5h3M860 680.5h3M356 670.5h3M362 670.5h3M368 670.5h2M482 698.5h3M530 698.5h3M1136 602.5h3M1208 602.5h3M1082 624.5h2M121 649.5h2M374 671.5h3M380 671.5h3M896 671.5h3M96 656.5h3M1376 656.5h2M1238 609.5h3M252 641.5h3M1298 621.5h3M441 685.5h2M1113 611.5h2M1250 611.5h3M222 633.5h3M1040 633.5h3M1094 620.5h3M1293 620.5h2M1070 627.5h3M1322 627.5h2M295 658.5h2M150 639.5h2M246 639.5h2M752 735.5h3M318 664.5h5M1160 596.5h3M1166 596.5h3M1172 596.5h3M1178 596.5h2M114 652.5h2M283 652.5h2M386 672.5h3M1124 606.5h2M566 696.5h3M572 696.5h3M668 696.5h3M614 692.5h2M650 692.5h2M824 692.5h2M392 673.5h3M398 673.5h3M890 673.5h2M590 694.5h3M596 694.5h3M656 694.5h3M1064 628.5h3M704 712.5h2M1286 619.5h3M1268 615.5h3M1088 622.5h3M1304 622.5h3M735 730.5h2M771 730.5h2M416 676.5h2M878 676.5h2M306 661.5h2M1382 661.5h2M126 648.5h2M271 648.5h2M933 648.5h2M452 689.5h3M1317 625.5h2M138 643.5h2M729 727.5h2M777 727.5h2M1389 666.5h2M1101 617.5h2M1154 597.5h3M1214 603.5h3M693 705.5h2M1190 599.5h3M1196 599.5h2M174 631.5h3M180 631.5h2M1334 631.5h3M872 677.5h3M1142 600.5h3M1202 600.5h2M169 632.5h2M216 632.5h3M1046 632.5h2M312 663.5h3M723 724.5h2M276 650.5h3M422 678.5h3M228 634.5h3M1034 634.5h3M1341 634.5h2M848 683.5h3M1256 612.5h3M831 688.5h2M241 638.5h2M717 721.5h2M836 686.5h2M1130 604.5h2M1220 604.5h3M758 734.5h2M687 702.5h2M1119 608.5h2M1233 608.5h2M1226 605.5h2M84 659.5h2M446 687.5h3M866 679.5h2M788 719.5h2M1274 616.5h2M270.5 647v1M1084.5 623v1M699.5 708v1M782.5 724v1M1360.5 646v1M334.5 668v1M1232.5 607v1M962.5 636v1M908.5 665v1M1018.5 635v1M909.5 664v1M1366.5 650v1M104.5 654v1M120.5 650v1M700.5 709v1M328.5 666v1M904.5 667v1M1354.5 641v1M646.5 692v1M128.5 647v1M1394.5 668v1M1340.5 633v1M158.5 636v1M1370.5 652v1M206.5 630v1M182.5 630v1M1204.5 601v1M140.5 642v1M1106.5 615v1M994.5 636v1M722.5 723v1M1112.5 612v1M240.5 637v1M1384.5 662v1M818.5 696v1M526.5 698v1M826.5 691v1M808.5 703v1M1118.5 609v1M144.5 641v1M892.5 672v1M770.5 731v1M460.5 691v1M790.5 718v1M807.5 704v1M616.5 691v1M706.5 713v1M734.5 729v1M796.5 713v1M434.5 681v1M932.5 649v1M152.5 638v1M838.5 685v1M795.5 714v1M692.5 704v1M264.5 644v1M776.5 728v1M288.5 654v1M370.5 671v1M928.5 651v1M1030.5 634v1M938.5 646v1M308.5 662v1M132.5 646v1M1388.5 665v1M1228.5 606v1M464.5 692v1M248.5 640v1M412.5 675v1M716.5 720v1M320.5 665v1M1378.5 657v1M652.5 693v1M956.5 638v1M801.5 709v1M802.5 708v1M1358.5 644v1M710.5 716v1M800.5 710v1M880.5 675v1M711.5 717v1M440.5 684v1M1346.5 636v1M1292.5 619v1M676.5 698v1M922.5 656v1M1359.5 645v1M914.5 661v1M1132.5 603v1M1180.5 597v1M728.5 726v1M418.5 677v1M86.5 658v1M712.5 718v1M926.5 653v1M783.5 723v1M236.5 636v1M868.5 678v1M1078.5 625v1M282.5 651v1M562.5 696v1M944.5 643v1M760.5 733v1M1264.5 614v1M1100.5 618v1M686.5 701v1M164.5 634v1M1324.5 628v1M1316.5 624v1M748.5 734v1M806.5 705v1M212.5 631v1M856.5 681v1M1364.5 648v1M116.5 651v1M794.5 715v1M830.5 689v1M1048.5 631v1M1276.5 617v1M294.5 657v1M1365.5 649v1M1126.5 605v1M260.5 643v1M1198.5 600v1M814.5 699v1M168.5 633v1M927.5 652v1M784.5 722v1M698.5 707v1M910.5 663v1" stroke="#ff0000" stroke-width="1" fill="none"/>
</g>
<text x="-1" y="595" font-size="10" fill="#000" textLength="133.0" lengthAdjust="spacingAndGlyphs" xml:space="preserve" >MACD(12,26,9) -0.5119 -0.1513</text>
<g shape-rendering="crispEdges">
<line x1="1" y1="790.5" x2="1602" y2="790.5" stroke="#c0c0c0" stroke-width="1" stroke-dasharray="3 3"/>
<line x1="1" y1="841.5" x2="1602" y2="841.5" stroke="#c0c0c0" stroke-width="1" stroke-dasharray="3 3"/>
<line x1="1" y1="902.5" x2="1602" y2="902.5" stroke="#c0c0c0" stroke-width="1" stroke-dasharray="3 3"/>
<path d="M198 822.5h3M206 822.5h8M1004 822.5h2M1136 822.5h2M1184 822.5h2M1238 822.5h2M1272 822.5h2M1275 822.5h2M51 833.5h2M864 833.5h2M974 833.5h3M1131 825.5h2M1164 825.5h4M1179 825.5h2M1267 825.5h2M1280 825.5h2M1284 825.5h2M361 864.5h2M512 864.5h3M551 864.5h2M563 864.5h2M742 864.5h3M913 811.5h2M1076 811.5h4M1146 811.5h2M782 843.5h3M788 843.5h4M796 843.5h4M806 843.5h6M24 856.5h4M241 856.5h2M312 856.5h6M347 856.5h2M844 856.5h4M1331 856.5h2M926 829.5h3M932 829.5h2M983 829.5h2M988 829.5h4M1025 829.5h3M1214 829.5h2M1227 829.5h2M201 823.5h5M214 823.5h5M1002 823.5h2M1014 823.5h2M1134 823.5h2M1182 823.5h2M1254 823.5h2M1270 823.5h2M1289 823.5h2M532 875.5h4M623 875.5h2M33 853.5h2M246 853.5h2M260 853.5h2M177 805.5h2M1094 805.5h5M173 807.5h2M1088 807.5h2M20 855.5h4M28 855.5h2M243 855.5h2M265 855.5h2M308 855.5h4M318 855.5h5M490 855.5h2M848 855.5h3M357 862.5h2M502 862.5h6M1350 862.5h3M1370 862.5h4M963 838.5h2M1313 838.5h2M1080 812.5h3M1148 812.5h4M1021 827.5h2M1030 827.5h3M1036 827.5h4M1231 827.5h2M1296 827.5h2M194 820.5h2M898 820.5h2M1009 820.5h2M1056 820.5h2M1060 820.5h4M1187 820.5h2M1104 801.5h2M131 788.5h2M369 868.5h3M109 798.5h2M1109 798.5h2M135 786.5h2M140 786.5h4M355 861.5h2M594 861.5h4M1348 861.5h2M440 904.5h3M415 893.5h2M196 821.5h2M1006 821.5h3M1011 821.5h2M1058 821.5h2M862 832.5h2M977 832.5h2M1218 832.5h2M1302 832.5h2M282 873.5h4M478 873.5h5M527 873.5h2M619 873.5h2M1390 873.5h3M239 857.5h2M841 857.5h3M1333 857.5h2M71 814.5h2M881 839.5h2M960 839.5h3M1315 839.5h2M0 826.5h3M998 826.5h2M1019 826.5h2M1033 826.5h3M1168 826.5h11M1233 826.5h2M1258 826.5h9M1282 826.5h2M1294 826.5h2M286 874.5h5M529 874.5h3M621 874.5h2M1393 874.5h2M18 854.5h2M30 854.5h3M262 854.5h3M306 854.5h2M323 854.5h2M56 830.5h2M858 830.5h3M924 830.5h2M934 830.5h3M981 830.5h2M992 830.5h3M1224 830.5h3M248 852.5h2M254 852.5h6M326 852.5h2M405 888.5h2M654 888.5h2M663 888.5h2M668 888.5h4M754 848.5h2M120 792.5h2M152 792.5h2M158 792.5h5M118 793.5h2M154 793.5h4M776 840.5h2M878 840.5h3M956 840.5h4M1317 840.5h2M780 842.5h2M792 842.5h4M874 842.5h2M1321 842.5h2M772 837.5h2M965 837.5h2M1310 837.5h3M359 863.5h2M498 863.5h4M508 863.5h4M553 863.5h10M745 863.5h2M1353 863.5h2M1374 863.5h5M234 859.5h3M270 859.5h2M352 859.5h2M761 859.5h2M837 859.5h2M1337 859.5h5M612 870.5h2M367 867.5h2M372 867.5h2M384 867.5h3M569 867.5h5M73 813.5h2M1152 813.5h3M969 835.5h3M1306 835.5h2M778 841.5h2M876 841.5h2M946 841.5h10M1319 841.5h2M365 866.5h2M374 866.5h3M380 866.5h4M516 866.5h2M547 866.5h2M567 866.5h2M574 866.5h5M738 866.5h2M67 816.5h2M187 816.5h2M1194 816.5h9M523 871.5h2M614 871.5h3M1386 871.5h2M122 791.5h2M694 908.5h8M628 877.5h4M929 828.5h3M985 828.5h3M1023 828.5h2M1028 828.5h2M1040 828.5h3M1229 828.5h2M190 818.5h2M904 818.5h3M1190 818.5h2M97 775.5h2M237 858.5h2M350 858.5h2M839 858.5h2M1335 858.5h2M642 884.5h9M1016 824.5h2M1162 824.5h2M1278 824.5h2M1286 824.5h3M1291 824.5h2M598 860.5h5M835 860.5h2M1342 860.5h6M770 836.5h2M967 836.5h2M1308 836.5h2M250 851.5h4M328 851.5h2M474 872.5h4M525 872.5h2M617 872.5h2M1388 872.5h2M175 806.5h2M1090 806.5h4M111 797.5h2M1111 797.5h2M785 844.5h3M800 844.5h6M812 844.5h4M632 878.5h3M520 869.5h2M610 869.5h2M430 902.5h6M192 819.5h2M900 819.5h4M1054 819.5h2M1064 819.5h3M1242 819.5h9M636 880.5h2M54 831.5h2M922 831.5h2M937 831.5h2M979 831.5h2M1220 831.5h4M816 845.5h4M407 889.5h2M661 889.5h2M672 889.5h3M824 847.5h3M690 907.5h4M702 907.5h5M1051 817.5h2M1192 817.5h2M133 787.5h2M144 787.5h3M106 799.5h3M1107 799.5h2M69 815.5h2M820 846.5h4M536 876.5h3M625 876.5h3M363 865.5h2M377 865.5h3M549 865.5h2M565 865.5h2M740 865.5h2M436 903.5h4M710 903.5h2M124 790.5h4M409 890.5h2M659 890.5h2M426 901.5h4M718 901.5h5M137 785.5h3M1074 810.5h2M1084 810.5h2M714 900.5h4M170 808.5h3M113 796.5h2M1113 796.5h2M640 883.5h2M422 898.5h2M413 892.5h2M972 834.5h2M1099 804.5h2M128 789.5h3M148 789.5h2M115 795.5h2M403 887.5h2M665 887.5h3M411 891.5h2M417 894.5h2M1102 802.5h2M186.5 815v1M446.5 890v4M1207.5 822v1M827.5 848v2M450.5 879v2M163.5 794v2M103.5 789v3M294.5 869v1M1324.5 845v2M766.5 846v4M484.5 868v2M750.5 855v2M393.5 875v1M17.5 852v2M229.5 843v3M1328.5 851v2M445.5 894v3M1161.5 822v2M465.5 881v2M40.5 845v1M75.5 811v2M1298.5 828v1M1120.5 810v3M730.5 882v2M449.5 881v3M219.5 824v2M99.5 776v3M10.5 840v1M769.5 837v3M483.5 870v2M302.5 859v1M915.5 812v2M35.5 851v2M1001.5 824v1M3.5 827v2M723.5 898v2M267.5 856v1M59.5 827v2M735.5 872v2M861.5 831v1M1116.5 800v3M102.5 786v3M339.5 862v1M1043.5 826v2M853.5 844v3M166.5 800v2M392.5 874v1M635.5 879v1M1327.5 850v1M1380.5 865v1M857.5 831v3M944.5 838v2M1101.5 803v1M230.5 846v3M460.5 873v2M1070.5 814v2M1323.5 843v2M852.5 847v4M734.5 874v2M43.5 841v1M472.5 875v1M13.5 845v2M464.5 879v2M275.5 863v2M918.5 820v2M233.5 856v3M16.5 850v2M725.5 893v3M1160.5 821v1M684.5 901v1M402.5 886v1M5.5 831v2M590.5 857v1M91.5 783v1M94.5 779v1M9.5 838v2M467.5 881v2M6.5 833v1M540.5 874v1M444.5 897v3M332.5 853v2M354.5 860v1M305.5 855v1M914.5 810v1M1206.5 820v2M871.5 839v1M448.5 884v3M232.5 852v4M222.5 828v2M184.5 812v2M162.5 793v1M872.5 840v1M1304.5 833v1M165.5 798v2M895.5 823v1M79.5 803v2M297.5 865v1M300.5 861v2M683.5 900v1M1305.5 834v1M729.5 884v2M856.5 834v4M105.5 796v3M1122.5 815v2M887.5 833v1M589.5 856v1M12.5 843v2M1123.5 817v1M274.5 862v1M1364.5 870v1M452.5 877v1M1357.5 867v1M331.5 851v2M585.5 854v2M749.5 857v2M1236.5 824v1M490.5 854v1M676.5 891v2M117.5 794v1M346.5 855v1M1115.5 798v2M1073.5 811v1M273.5 861v1M768.5 840v3M497.5 862v1M101.5 783v3M443.5 900v3M463.5 878v1M581.5 861v1M603.5 861v1M15.5 848v2M917.5 817v3M466.5 883v1M58.5 829v1M909.5 815v1M61.5 824v2M447.5 887v3M50.5 834v1M890.5 829v1M1356.5 865v2M1367.5 866v1M604.5 862v1M8.5 836v2M459.5 871v2M228.5 839v4M395.5 877v1M11.5 841v2M543.5 870v1M4.5 829v2M767.5 843v3M1300.5 830v1M885.5 835v1M296.5 866v2M851.5 851v3M733.5 876v2M335.5 858v1M1240.5 821v1M1145.5 812v1M1209.5 824v1M855.5 838v3M269.5 858v1M675.5 890v1M424.5 899v1M291.5 873v1M708.5 905v1M394.5 876v1M712.5 902v1M850.5 854v1M150.5 790v1M304.5 856v2M462.5 876v2M996.5 828v1M37.5 849v1M1133.5 824v1M1125.5 820v1M854.5 841v3M482.5 872v1M80.5 801v2M1355.5 864v1M455.5 873v1M1000.5 825v1M7.5 834v2M584.5 856v2M341.5 860v1M1126.5 821v1M866.5 834v1M277.5 866v1M104.5 792v4M299.5 863v1M686.5 903v1M220.5 826v1M1045.5 823v2M334.5 856v2M728.5 886v2M1269.5 824v1M180.5 807v2M221.5 827v1M1053.5 818v1M45.5 839v1M387.5 868v1M756.5 850v2M1114.5 797v1M231.5 849v3M580.5 862v2M1251.5 820v1M919.5 822v3M1363.5 871v2M1140.5 818v2M489.5 856v2M542.5 871v2M93.5 780v1M1277.5 823v1M1124.5 818v2M763.5 856v3M1299.5 829v1M1186.5 821v1M64.5 820v1M1121.5 813v2M88.5 787v2M1155.5 814v2M732.5 878v2M419.5 895v1M607.5 866v1M100.5 779v4M337.5 861v2M1216.5 830v1M916.5 814v3M897.5 821v1M420.5 896v1M330.5 850v1M592.5 859v1M1118.5 805v3M227.5 836v3M333.5 855v1M179.5 806v1M939.5 832v1M84.5 793v2M1359.5 869v1M96.5 776v2M892.5 827v1M1381.5 866v1M755.5 849v1M873.5 841v1M678.5 894v1M545.5 868v1M1382.5 867v1M1366.5 867v2M454.5 874v2M884.5 836v2M727.5 888v3M276.5 865v1M49.5 835v1M685.5 902v1M591.5 858v1M606.5 864v2M397.5 880v1M858.5 829v1M1358.5 868v1M1235.5 825v1M1048.5 819v1M336.5 859v2M473.5 873v2M223.5 830v1M738.5 867v1M758.5 853v2M245.5 854v1M911.5 813v1M1139.5 820v1M488.5 858v2M677.5 893v1M759.5 855v1M1369.5 863v2M457.5 871v1M583.5 858v1M908.5 816v1M762.5 860v1M60.5 826v1M492.5 856v1M87.5 789v1M396.5 878v2M1067.5 818v1M722.5 900v1M995.5 829v1M765.5 850v3M151.5 791v1M651.5 885v1M487.5 860v3M47.5 837v1M1044.5 825v1M340.5 861v1M1158.5 818v2M579.5 864v2M298.5 864v1M1086.5 809v1M1128.5 823v2M83.5 795v2M279.5 869v1M170.5 809v1M1142.5 816v1M522.5 870v1M941.5 835v1M707.5 906v1M293.5 870v1M44.5 840v1M1204.5 818v1M754.5 847v1M757.5 852v1M1210.5 825v1M36.5 850v1M1211.5 826v1M343.5 858v1M468.5 880v1M63.5 821v2M278.5 867v2M1047.5 820v2M1256.5 824v1M605.5 863v1M753.5 849v2M189.5 817v1M78.5 805v2M1301.5 831v1M181.5 809v1M518.5 867v1M1127.5 822v1M940.5 833v2M226.5 834v2M833.5 859v2M582.5 859v2M1203.5 817v1M726.5 891v2M764.5 853v3M95.5 778v1M921.5 828v2M147.5 788v1M167.5 802v2M1361.5 872v1M39.5 846v1M761.5 858v1M425.5 900v1M471.5 876v1M388.5 869v1M544.5 869v1M922.5 830v1M494.5 858v2M680.5 896v2M586.5 853v1M1383.5 868v1M1237.5 823v1M389.5 870v1M883.5 838v1M1252.5 821v1M90.5 784v1M495.5 860v1M82.5 797v2M1384.5 869v1M1241.5 820v1M737.5 868v2M867.5 835v1M301.5 860v1M1119.5 808v2M281.5 871v2M687.5 904v1M868.5 836v1M1360.5 870v2M608.5 867v1M86.5 790v2M169.5 806v2M338.5 863v1M1217.5 831v1M891.5 828v1M657.5 890v1M98.5 774v1M829.5 852v2M421.5 897v1M225.5 832v2M760.5 856v2M1365.5 869v1M486.5 863v2M1368.5 865v1M886.5 834v1M42.5 842v1M679.5 895v1M66.5 817v1M638.5 881v1M1156.5 816v1M398.5 881v1M748.5 859v2M1050.5 816v1M894.5 824v2M539.5 875v1M1157.5 817v1M399.5 882v1M653.5 887v1M1129.5 825v1M656.5 889v1M832.5 857v2M593.5 860v1M910.5 814v1M1138.5 821v1M345.5 856v1M1141.5 817v1M168.5 804v2M1130.5 826v1M920.5 825v3M1069.5 816v1M456.5 872v1M1072.5 812v1M828.5 850v2M997.5 827v1M89.5 785v2M224.5 831v1M390.5 871v2M724.5 896v2M1293.5 825v1M736.5 870v2M77.5 807v2M1274.5 821v1M391.5 873v1M1212.5 827v1M1326.5 848v2M1046.5 822v1M1213.5 828v1M1144.5 813v2M292.5 871v2M709.5 904v1M295.5 868v1M485.5 865v3M470.5 877v2M713.5 901v1M38.5 847v2M81.5 799v2M342.5 859v1M942.5 836v1M889.5 830v1M62.5 823v1M752.5 851v2M1205.5 819v1M303.5 858v1M1379.5 864v1M493.5 857v1M1329.5 853v2M53.5 832v1M943.5 837v1M1049.5 817v2M451.5 878v1M1106.5 800v1M1330.5 855v1M46.5 838v1M652.5 886v1M682.5 899v1M349.5 857v1M1159.5 820v1M1257.5 825v1M519.5 868v1M280.5 870v1M774.5 838v1M85.5 792v1M41.5 843v2M775.5 839v1M182.5 810v1M76.5 809v2M831.5 855v2M870.5 838v1M65.5 818v2M92.5 781v2M1117.5 803v2M183.5 811v1M1083.5 811v1M747.5 861v2M164.5 796v2M731.5 880v2M1087.5 808v1M1325.5 847v1M587.5 854v1M912.5 812v1M893.5 826v1M400.5 883v2M588.5 855v1M1385.5 870v1M546.5 867v1M401.5 885v1M888.5 831v2M834.5 861v1M751.5 853v2M869.5 837v1M1068.5 817v1M541.5 873v1M658.5 891v1M689.5 906v1M1018.5 825v1M1362.5 873v1M945.5 840v1M442.5 903v1M681.5 898v1M1208.5 823v1M1189.5 819v1M1253.5 822v1M1013.5 822v1M515.5 865v1M1181.5 824v1M496.5 861v1M770.5 835v1M896.5 822v1M1143.5 815v1M272.5 860v1M106.5 800v1M639.5 882v1M458.5 870v1M344.5 857v1M469.5 879v1M688.5 905v1M461.5 875v1M325.5 853v1M609.5 868v1M1071.5 813v1M234.5 860v1M830.5 854v1M14.5 847v1M453.5 876v1M907.5 817v1M185.5 814v1M48.5 836v1M268.5 857v1" stroke="#1e90ff" stroke-width="1" fill="none"/>
<rect x="58" y="929" width="1" height="3" fill="#000"/>
<rect x="122" y="929" width="1" height="3" fill="#000"/>
<rect x="186" y="929" width="1" height="3" fill="#000"/>
<rect x="250" y="929" width="1" height="3" fill="#000"/>
<rect x="314" y="929" width="1" height="3" fill="#000"/>
<rect x="378" y="929" width="1" height="3" fill="#000"/>
<rect x="442" y="929" width="1" height="3" fill="#000"/>
<rect x="506" y="929" width="1" height="3" fill="#000"/>
<rect x="570" y="929" width="1" height="3" fill="#000"/>
<rect x="634" y="929" width="1" height="3" fill="#000"/>
<rect x="698" y="929" width="1" height="3" fill="#000"/>
<rect x="762" y="929" width="1" height="3" fill="#000"/>
<rect x="826" y="929" width="1" height="3" fill="#000"/>
<rect x="890" y="929" width="1" height="3" fill="#000"/>
<rect x="954" y="929" width="1" height="3" fill="#000"/>
<rect x="1018" y="929" width="1" height="3" fill="#000"/>
<rect x="1082" y="929" width="1" height="3" fill="#000"/>
<rect x="1146" y="929" width="1" height="3" fill="#000"/>
<rect x="1210" y="929" width="1" height="3" fill="#000"/>
<rect x="1274" y="929" width="1" height="3" fill="#000"/>
<rect x="1338" y="929" width="1" height="3" fill="#000"/>
</g>
<text x="-2" y="767" font-size="10" fill="#000" textLength="67.4" lengthAdjust="spacingAndGlyphs" xml:space="preserve" >RSI(14) 30.4850</text>
<g font-size="9" fill="#000">
<text x="-6" y="941.5" font-size="10" fill="#000" textLength="51.5" lengthAdjust="spacingAndGlyphs" xml:space="preserve" >17 Feb 2020</text>
<text x="58" y="941.5" font-size="10" fill="#000" textLength="54.1" lengthAdjust="spacingAndGlyphs" xml:space="preserve" >18 Feb 20:00</text>
<text x="122" y="941.5" font-size="10" fill="#000" textLength="54.1" lengthAdjust="spacingAndGlyphs" xml:space="preserve" >20 Feb 04:00</text>
<text x="186" y="941.5" font-size="10" fill="#000" textLength="54.1" lengthAdjust="spacingAndGlyphs" xml:space="preserve" >21 Feb 12:00</text>
<text x="250" y="941.5" font-size="10" fill="#000" textLength="54.1" lengthAdjust="spacingAndGlyphs" xml:space="preserve" >24 Feb 20:00</text>
<text x="314" y="941.5" font-size="10" fill="#000" textLength="54.1" lengthAdjust="spacingAndGlyphs" xml:space="preserve" >26 Feb 04:00</text>
<text x="378" y="941.5" font-size="10" fill="#000" textLength="54.1" lengthAdjust="spacingAndGlyphs" xml:space="preserve" >27 Feb 12:00</text>
<text x="442" y="941.5" font-size="10" fill="#000" textLength="49.0" lengthAdjust="spacingAndGlyphs" xml:space="preserve" >1 Mar 23:00</text>
<text x="506" y="941.5" font-size="10" fill="#000" textLength="49.0" lengthAdjust="spacingAndGlyphs" xml:space="preserve" >3 Mar 04:00</text>
<text x="570" y="941.5" font-size="10" fill="#000" textLength="49.0" lengthAdjust="spacingAndGlyphs" xml:space="preserve" >4 Mar 12:00</text>
<text x="634" y="941.5" font-size="10" fill="#000" textLength="49.0" lengthAdjust="spacingAndGlyphs" xml:space="preserve" >5 Mar 20:00</text>
<text x="698" y="941.5" font-size="10" fill="#000" textLength="49.0" lengthAdjust="spacingAndGlyphs" xml:space="preserve" >9 Mar 04:00</text>
<text x="762" y="941.5" font-size="10" fill="#000" textLength="54.1" lengthAdjust="spacingAndGlyphs" xml:space="preserve" >10 Mar 12:00</text>
<text x="826" y="941.5" font-size="10" fill="#000" textLength="53.4" lengthAdjust="spacingAndGlyphs" xml:space="preserve" >11 Mar 20:00</text>
<text x="890" y="941.5" font-size="10" fill="#000" textLength="54.1" lengthAdjust="spacingAndGlyphs" xml:space="preserve" >13 Mar 04:00</text>
<text x="954" y="941.5" font-size="10" fill="#000" textLength="54.1" lengthAdjust="spacingAndGlyphs" xml:space="preserve" >16 Mar 12:00</text>
<text x="1018" y="941.5" font-size="10" fill="#000" textLength="54.1" lengthAdjust="spacingAndGlyphs" xml:space="preserve" >17 Mar 20:00</text>
<text x="1082" y="941.5" font-size="10" fill="#000" textLength="54.1" lengthAdjust="spacingAndGlyphs" xml:space="preserve" >19 Mar 04:00</text>
<text x="1146" y="941.5" font-size="10" fill="#000" textLength="54.1" lengthAdjust="spacingAndGlyphs" xml:space="preserve" >20 Mar 12:00</text>
<text x="1210" y="941.5" font-size="10" fill="#000" textLength="54.1" lengthAdjust="spacingAndGlyphs" xml:space="preserve" >23 Mar 20:00</text>
<text x="1274" y="941.5" font-size="10" fill="#000" textLength="54.1" lengthAdjust="spacingAndGlyphs" xml:space="preserve" >25 Mar 04:00</text>
<text x="1338" y="941.5" font-size="10" fill="#000" textLength="54.1" lengthAdjust="spacingAndGlyphs" xml:space="preserve" >26 Mar 12:00</text>
</g>
<defs><linearGradient id="gs" x1="0" y1="0" x2="0" y2="1"><stop offset="0" stop-color="#fa5050"/><stop offset="1" stop-color="#d93030"/></linearGradient><linearGradient id="gp" x1="0" y1="0" x2="0" y2="1"><stop offset="0" stop-color="#dc2e2e"/><stop offset="0.6" stop-color="#c41818"/><stop offset="1" stop-color="#ad0000"/></linearGradient><linearGradient id="gb" x1="0" y1="0" x2="0" y2="1"><stop offset="0" stop-color="#f4f4f4"/><stop offset="0.5" stop-color="#dcdcdc"/><stop offset="1" stop-color="#c8c8c8"/></linearGradient></defs>
<g shape-rendering="crispEdges">
<rect x="0" y="47" width="217" height="64" fill="#fff"/>
<rect x="0" y="47" width="49" height="25" fill="url(#gs)"/>
<rect x="164" y="47" width="52" height="25" fill="url(#gs)"/>
<rect x="1" y="70" width="44" height="1" fill="#f9b0b0"/>
<rect x="168" y="70" width="45" height="1" fill="#f9b0b0"/>
<rect x="0" y="71" width="106" height="40" fill="url(#gp)"/>
<rect x="108" y="71" width="108" height="40" fill="url(#gp)"/>
<rect x="0" y="71" width="49" height="1" fill="#d93030"/>
<rect x="164" y="71" width="52" height="1" fill="#d93030"/>
<rect x="51.5" y="47.5" width="110" height="21" fill="#fff" stroke="#a8a8a8"/>
<rect x="53" y="49" width="19" height="19" fill="url(#gb)"/>
<rect x="141" y="49" width="19" height="19" fill="url(#gb)"/>
<rect x="72" y="48" width="1" height="20" fill="#b0b0b0"/>
<rect x="140" y="48" width="1" height="20" fill="#b0b0b0"/>
</g>
<polygon points="59,56 64.5,56 61.75,59.5" fill="#4a5fc0"/>
<polygon points="148,59 153.5,59 150.75,55.5" fill="#4a5fc0"/>
<text x="137" y="62" font-size="12" fill="#000" text-anchor="end">1.00</text>
<text x="22" y="62.5" font-size="11.5" fill="#fff" text-anchor="middle">SELL</text>
<text x="189" y="62.5" font-size="11.5" fill="#fff" text-anchor="middle">BUY</text>
<g fill="#fff">
<text x="20" y="101.5" font-size="11" font-weight="bold">107</text>
<text x="44" y="101.5" font-size="32" textLength="35" lengthAdjust="spacingAndGlyphs">77</text>
<text x="84" y="85.5" font-size="11" font-weight="bold">1</text>
<text x="130.5" y="101.5" font-size="11" font-weight="bold">107</text>
<text x="155" y="101.5" font-size="32" textLength="35" lengthAdjust="spacingAndGlyphs">78</text>
<text x="195" y="85.5" font-size="11" font-weight="bold">9</text>
</g>
<defs><pattern id="chk" width="2" height="2" patternUnits="userSpaceOnUse"><rect width="2" height="2" fill="#f0f0f0"/><rect width="1" height="1" fill="#fff"/><rect x="1" y="1" width="1" height="1" fill="#fff"/></pattern><linearGradient id="gold" x1="0" y1="0" x2="1" y2="1"><stop offset="0" stop-color="#fbe36a"/><stop offset="0.5" stop-color="#e8b820"/><stop offset="1" stop-color="#b87a10"/></linearGradient><linearGradient id="blu" x1="0" y1="0" x2="0" y2="1"><stop offset="0" stop-color="#5aa8f0"/><stop offset="1" stop-color="#1a5ac8"/></linearGradient><linearGradient id="grn" x1="0" y1="0" x2="1" y2="0"><stop offset="0" stop-color="#2ec82e"/><stop offset="0.5" stop-color="#8af08a"/><stop offset="1" stop-color="#2ec82e"/></linearGradient><radialGradient id="lens" cx="0.4" cy="0.35" r="0.7"><stop offset="0" stop-color="#ffffff"/><stop offset="1" stop-color="#c4e6f8"/></radialGradient><linearGradient id="bub" x1="0" y1="0" x2="0" y2="1"><stop offset="0" stop-color="#ffffff"/><stop offset="0.55" stop-color="#f4f4f6"/><stop offset="1" stop-color="#c8c8d4"/></linearGradient></defs>
<g id="toolbar">
<text x="-7.5" y="14.5" font-size="12" fill="#000">新订单</text>
<polygon points="41,13.2 49,18.8 57,12.4 57,11 49,16.2 41,12" fill="#9a6208"/>
<polygon points="47.2,4.2 57,11.4 49,16.8 41,12.2" fill="url(#gold)" stroke="#b88212" stroke-width="0.7"/>
<path d="M41.6,13.6 L49,17.9 L56.6,12.6" stroke="#e0b040" stroke-width="0.6" fill="none"/>
<path d="M47.2,4.6 L42,11.8" stroke="#fff2a0" stroke-width="0.9" fill="none"/>
<path d="M72,4.5 L75,3 H81.5 V12.5 H72 Z" fill="url(#blu)" stroke="#1a5ac0" stroke-width="0.6"/>
<path d="M75,5 V12.5" stroke="#d0e8ff" stroke-width="1"/>
<rect x="76.5" y="6.5" width="4" height="1.2" fill="#e8f4ff"/>
<path d="M72,18.3 a2.7,2.7 0 0 1 0.2,-5.4 a3.3,3.3 0 0 1 6,-0.9 a2.8,2.8 0 0 1 4.2,1.9 a2.3,2.3 0 0 1 -0.5,4.4 Z" fill="#eef3fb" stroke="#4a70c0" stroke-width="0.9"/>
<g fill="none">
<circle cx="105" cy="10.8" r="7.2" stroke="#b8cfe8" stroke-width="1.2"/>
<path d="M105,10.8 V18 A7.2,7.2 0 0 0 112.2,10.8 A7.2,7.2 0 0 0 110,5.7 Z" fill="#8cc88c" stroke="none" opacity="0.85"/>
<path d="M100,5.6 A7.2,7.2 0 0 0 100,16" stroke="#3a70d0" stroke-width="1.3"/>
<circle cx="105" cy="10.8" r="4" stroke="#6a98e0" stroke-width="1.1"/>
<circle cx="105" cy="10.3" r="1.6" fill="#2a5ad0"/>
<path d="M105.3,11 V18.3" stroke="#1aa01a" stroke-width="1.4"/>
</g>
<polygon points="125.5,9 139,9 137.5,17 133,18.6 129.5,16.5" fill="#f6d848" stroke="#c89a18" stroke-width="0.6"/>
<ellipse cx="132.3" cy="8" rx="7.6" ry="2.6" fill="#4a9ad8"/>
<path d="M128,7.5 a4.4,4.4 0 0 1 8.8,0 Z" fill="#5ab0e8"/>
<circle cx="136.6" cy="14.6" r="4" fill="#e02010"/>
<rect x="134.9" y="12.9" width="3.4" height="3.4" fill="#fff"/>
<text x="145" y="14.5" font-size="12" fill="#000">自动交易</text>
<rect x="200" y="0" width="1" height="22" fill="#a0a0a0" shape-rendering="crispEdges"/><rect x="201" y="1" width="1" height="21" fill="#fff" shape-rendering="crispEdges"/>
<rect x="204" y="1" width="3" height="1" fill="#a8a8a8" shape-rendering="crispEdges"/><rect x="204" y="3" width="3" height="1" fill="#a8a8a8" shape-rendering="crispEdges"/><rect x="204" y="5" width="3" height="1" fill="#a8a8a8" shape-rendering="crispEdges"/><rect x="204" y="7" width="3" height="1" fill="#a8a8a8" shape-rendering="crispEdges"/><rect x="204" y="9" width="3" height="1" fill="#a8a8a8" shape-rendering="crispEdges"/><rect x="204" y="11" width="3" height="1" fill="#a8a8a8" shape-rendering="crispEdges"/><rect x="204" y="13" width="3" height="1" fill="#a8a8a8" shape-rendering="crispEdges"/><rect x="204" y="15" width="3" height="1" fill="#a8a8a8" shape-rendering="crispEdges"/><rect x="204" y="17" width="3" height="1" fill="#a8a8a8" shape-rendering="crispEdges"/><rect x="204" y="19" width="3" height="1" fill="#a8a8a8" shape-rendering="crispEdges"/>
<path d="M218.5,6 V18.5 M216,16.5 H228.5" stroke="#555" stroke-width="1.1" fill="none"/><path d="M216.6,8 L218.5,5 L220.4,8 Z M227,14.6 L230,16.5 L227,18.4 Z" fill="#555"/>
<path d="M224.7,6.2 V14.2 M224.7,7.3 H227.2 M222,13.5 H224.7" stroke="#1a9a1a" stroke-width="1.3" fill="none"/>
<rect x="238" y="0" width="1" height="22" fill="#a0a0a0" shape-rendering="crispEdges"/><rect x="239" y="1" width="1" height="21" fill="#fff" shape-rendering="crispEdges"/>
<rect x="240" y="0" width="23" height="21" fill="url(#chk)" shape-rendering="crispEdges"/>
<path d="M246.5,6 V18.5 M244,16.5 H256.5" stroke="#555" stroke-width="1.1" fill="none"/><path d="M244.6,8 L246.5,5 L248.4,8 Z M255,14.6 L258,16.5 L255,18.4 Z" fill="#555"/>
<path d="M252.5,3.3 V14.6" stroke="#1a9a1a" stroke-width="1.2"/>
<rect x="250.2" y="5.2" width="4.6" height="7.4" fill="url(#grn)" stroke="#1a9a1a" stroke-width="0.8"/>
<path d="M274.5,6 V18.5 M272,16.5 H284.5" stroke="#555" stroke-width="1.1" fill="none"/><path d="M272.6,8 L274.5,5 L276.4,8 Z M283,14.6 L286,16.5 L283,18.4 Z" fill="#555"/>
<path d="M273.2,13.6 Q276.5,10.5 279.4,8.4 Q282,9.2 284.8,12" stroke="#2a9a2a" stroke-width="1.2" fill="none"/>
<rect x="295" y="0" width="1" height="22" fill="#a0a0a0" shape-rendering="crispEdges"/><rect x="296" y="1" width="1" height="21" fill="#fff" shape-rendering="crispEdges"/>
<path d="M314,13.3 L319,17.6" stroke="#b8901a" stroke-width="3.4" stroke-linecap="round"/>
<path d="M314.2,13.2 L318.8,17.2" stroke="#f0d050" stroke-width="1.6" stroke-linecap="round"/>
<circle cx="310" cy="9" r="5.6" fill="url(#lens)" stroke="#3a7cc8" stroke-width="1.3"/>
<path d="M306.8,9 H313.2 M310,5.8 V12.2" stroke="#3a7fa8" stroke-width="1.7"/>
<path d="M342,13.3 L347,17.6" stroke="#b8901a" stroke-width="3.4" stroke-linecap="round"/>
<path d="M342.2,13.2 L346.8,17.2" stroke="#f0d050" stroke-width="1.6" stroke-linecap="round"/>
<circle cx="338" cy="9" r="5.6" fill="url(#lens)" stroke="#3a7cc8" stroke-width="1.3"/>
<path d="M334.8,9 H341.2" stroke="#3a7fa8" stroke-width="1.7"/>
<rect x="360" y="3" width="8" height="8" fill="#3a9a1c"/>
<rect x="361" y="6" width="6" height="4" fill="#f0f4ff"/>
<rect x="362" y="7.5" width="4" height="1" fill="#3a9a1c" opacity="0.55"/>
<rect x="361" y="4" width="1" height="1" fill="#f0f4ff"/>
<rect x="368" y="3" width="8" height="8" fill="#1c50c8"/>
<rect x="369" y="6" width="6" height="4" fill="#f0f4ff"/>
<rect x="370" y="7.5" width="4" height="1" fill="#1c50c8" opacity="0.55"/>
<rect x="369" y="4" width="1" height="1" fill="#f0f4ff"/>
<rect x="360" y="11" width="8" height="8" fill="#1c50c8"/>
<rect x="361" y="14" width="6" height="4" fill="#f0f4ff"/>
<rect x="362" y="15.5" width="4" height="1" fill="#1c50c8" opacity="0.55"/>
<rect x="361" y="12" width="1" height="1" fill="#f0f4ff"/>
<rect x="368" y="11" width="8" height="8" fill="#3a9a1c"/>
<rect x="369" y="14" width="6" height="4" fill="#f0f4ff"/>
<rect x="370" y="15.5" width="4" height="1" fill="#3a9a1c" opacity="0.55"/>
<rect x="369" y="12" width="1" height="1" fill="#f0f4ff"/>
<rect x="385" y="0" width="1" height="22" fill="#a0a0a0" shape-rendering="crispEdges"/><rect x="386" y="1" width="1" height="21" fill="#fff" shape-rendering="crispEdges"/>
<rect x="390" y="0" width="25" height="21" fill="url(#chk)" shape-rendering="crispEdges"/>
<path d="M398.5,6 V18.5 M396,16.5 H408.5" stroke="#555" stroke-width="1.1" fill="none"/><path d="M396.6,8 L398.5,5 L400.4,8 Z M407,14.6 L410,16.5 L407,18.4 Z" fill="#555"/>
<polygon points="403.2,7.1 403.2,13.8 407.3,10.5" fill="#5ad85a" stroke="#1a9a1a" stroke-width="0.8"/>
<rect x="418" y="0" width="1" height="22" fill="#a0a0a0" shape-rendering="crispEdges"/><rect x="419" y="1" width="1" height="21" fill="#fff" shape-rendering="crispEdges"/>
<rect x="420" y="0" width="23" height="21" fill="url(#chk)" shape-rendering="crispEdges"/>
<path d="M426.5,6 V18.5 M424,16.5 H436.5" stroke="#555" stroke-width="1.1" fill="none"/><path d="M424.6,8 L426.5,5 L428.4,8 Z M435,14.6 L438,16.5 L435,18.4 Z" fill="#555"/>
<path d="M432.5,5 V14.6" stroke="#1a6aa0" stroke-width="1.2"/>
<path d="M434,10.5 H438.2 M436.6,8.4 L434,10.5 L436.6,12.6" stroke="#e04a00" stroke-width="1.2" fill="none"/>
<rect x="447" y="0" width="1" height="22" fill="#a0a0a0" shape-rendering="crispEdges"/><rect x="448" y="1" width="1" height="21" fill="#fff" shape-rendering="crispEdges"/>
<path d="M457.5,3.5 H465 L468,6.5 V16.3 H457.5 Z" fill="#fcfcfc" stroke="#909090" stroke-width="0.8"/>
<text x="459.3" y="13" font-size="9" font-style="italic" fill="#606060" font-family="Liberation Serif, serif">f</text>
<path d="M465,9.5 H469.3 V12.8 H472.8 V17.1 H469.3 V20.6 H465 V17.1 H461.4 V12.8 H465 Z" fill="#30d830" stroke="#0a8a0a" stroke-width="0.8" stroke-linejoin="miter"/>
<path d="M466,10.6 H468.3 M462.4,13.9 H471.8" stroke="#a0f8a0" stroke-width="1" fill="none"/>
<polygon points="478.7,10.2 484.3,10.2 481.5,13.2" fill="#000"/>
<circle cx="503.1" cy="10.9" r="6.6" fill="#fafcff" stroke="#1a6ad0" stroke-width="2.2"/>
<path d="M503.1,7.2 V11.2 H505.8" stroke="#333" stroke-width="1.1" fill="none"/>
<polygon points="518,10.2 523.6,10.2 520.8,13.2" fill="#000"/>
<rect x="534.5" y="4.5" width="15" height="13" fill="#fff" stroke="#2a6ac0" stroke-width="1"/>
<rect x="535" y="5" width="14" height="2" fill="#4a90e0"/>
<rect x="535" y="11" width="14" height="1" fill="#2a6ac0"/>
<path d="M536.5,10 L539,9.3 L541,8.4 L543.5,9.2 L547.5,8" stroke="#a82808" stroke-width="1.1" fill="none"/>
<path d="M537,15.3 L539.5,14.8 L541.5,15 L544.5,13.2 L547.5,15.5" stroke="#1a9a1a" stroke-width="1.1" fill="none"/>
<polygon points="556.9,10.2 562.5,10.2 559.6999999999999,13.2" fill="#000"/>
<rect x="568" y="0" width="1" height="22" fill="#a0a0a0" shape-rendering="crispEdges"/><rect x="569" y="1" width="1" height="21" fill="#fff" shape-rendering="crispEdges"/>
<rect x="572" y="1" width="3" height="1" fill="#a8a8a8" shape-rendering="crispEdges"/><rect x="572" y="3" width="3" height="1" fill="#a8a8a8" shape-rendering="crispEdges"/><rect x="572" y="5" width="3" height="1" fill="#a8a8a8" shape-rendering="crispEdges"/><rect x="572" y="7" width="3" height="1" fill="#a8a8a8" shape-rendering="crispEdges"/><rect x="572" y="9" width="3" height="1" fill="#a8a8a8" shape-rendering="crispEdges"/><rect x="572" y="11" width="3" height="1" fill="#a8a8a8" shape-rendering="crispEdges"/><rect x="572" y="13" width="3" height="1" fill="#a8a8a8" shape-rendering="crispEdges"/><rect x="572" y="15" width="3" height="1" fill="#a8a8a8" shape-rendering="crispEdges"/><rect x="572" y="17" width="3" height="1" fill="#a8a8a8" shape-rendering="crispEdges"/><rect x="572" y="19" width="3" height="1" fill="#a8a8a8" shape-rendering="crispEdges"/>
<rect x="578" y="0" width="1" height="22" fill="#a0a0a0" shape-rendering="crispEdges"/><rect x="579" y="1" width="1" height="21" fill="#fff" shape-rendering="crispEdges"/>
<rect x="580" y="0" width="23" height="21" fill="url(#chk)" shape-rendering="crispEdges"/>
<polygon points="586,4 586,15.2 588.6,12.9 591,18 592.8,17.2 590.4,12.2 594,11.8" fill="#505050"/>
<path d="M618.5,4 V10 M618.5,13 V19 M611,11.5 H617 M620,11.5 H626" stroke="#555" stroke-width="1.1"/>
<rect x="618" y="11" width="1" height="1" fill="#555"/>
<rect x="635" y="0" width="1" height="22" fill="#a0a0a0" shape-rendering="crispEdges"/><rect x="636" y="1" width="1" height="21" fill="#fff" shape-rendering="crispEdges"/>
<path d="M652.5,5 V17.8" stroke="#505050" stroke-width="1.3"/>
<path d="M675,11.4 H687" stroke="#505050" stroke-width="1.3"/>
<path d="M703,17.8 L715,5.8" stroke="#505050" stroke-width="1.2"/>
<path d="M729,12.7 L736.7,5 M730.5,17 L742.5,5.8 M733.5,17.5 L743,9" stroke="#505050" stroke-width="1" fill="none"/>
<path d="M731,11 L732.5,16 M733.5,8.8 L735.5,14.5 M736.3,6.5 L738.5,12 M739.5,4 L741,10" stroke="#505050" stroke-width="0.9" fill="none"/>
<text x="739.8" y="19.8" font-size="7" font-weight="bold" fill="#404040">E</text>
<path d="M758.2,4.5 H771" stroke="#505050" stroke-width="1" stroke-dasharray="1 1" shape-rendering="crispEdges"/>
<path d="M758.2,7.4 H771" stroke="#505050" stroke-width="1" stroke-dasharray="1 1" shape-rendering="crispEdges"/>
<path d="M758.2,11.4 H771" stroke="#505050" stroke-width="1" stroke-dasharray="1 1" shape-rendering="crispEdges"/>
<path d="M758.2,15.4 H766.5" stroke="#505050" stroke-width="1" stroke-dasharray="1 1" shape-rendering="crispEdges"/>
<text x="767.4" y="19.8" font-size="7" font-weight="bold" fill="#404040">F</text>
<text x="792.5" y="16" font-size="12.5" font-weight="bold" fill="#505050" text-anchor="middle">A</text>
<rect x="815.5" y="5.5" width="11" height="12" fill="none" stroke="#505050" stroke-width="1" stroke-dasharray="1 1" shape-rendering="crispEdges"/>
<text x="821" y="15.7" font-size="10.5" font-weight="bold" fill="#505050" text-anchor="middle">T</text>
<polygon points="845.8,4.6 849.3,8 847.3,8 847.3,9.6 844.3,9.6 844.3,8 842.3,8" fill="#505050"/>
<polygon points="852.7,18 856.2,14.6 854.2,14.6 854.2,13 851.2,13 851.2,14.6 849.2,14.6" fill="#505050"/>
<path d="M844.5,12.4 L846.5,14.4 L851.5,8.5" stroke="#505050" stroke-width="1.2" fill="none"/>
<polygon points="863,10.2 868.6,10.2 865.8,13.2" fill="#000"/>
<rect x="874" y="0" width="1" height="22" fill="#a0a0a0" shape-rendering="crispEdges"/><rect x="875" y="1" width="1" height="21" fill="#fff" shape-rendering="crispEdges"/>
<rect x="878" y="1" width="3" height="1" fill="#a8a8a8" shape-rendering="crispEdges"/><rect x="878" y="3" width="3" height="1" fill="#a8a8a8" shape-rendering="crispEdges"/><rect x="878" y="5" width="3" height="1" fill="#a8a8a8" shape-rendering="crispEdges"/><rect x="878" y="7" width="3" height="1" fill="#a8a8a8" shape-rendering="crispEdges"/><rect x="878" y="9" width="3" height="1" fill="#a8a8a8" shape-rendering="crispEdges"/><rect x="878" y="11" width="3" height="1" fill="#a8a8a8" shape-rendering="crispEdges"/><rect x="878" y="13" width="3" height="1" fill="#a8a8a8" shape-rendering="crispEdges"/><rect x="878" y="15" width="3" height="1" fill="#a8a8a8" shape-rendering="crispEdges"/><rect x="878" y="17" width="3" height="1" fill="#a8a8a8" shape-rendering="crispEdges"/><rect x="878" y="19" width="3" height="1" fill="#a8a8a8" shape-rendering="crispEdges"/>
<rect x="1025" y="0" width="24" height="21" fill="url(#chk)" shape-rendering="crispEdges"/>
<rect x="1024" y="1" width="1" height="21" fill="#a0a0a0" shape-rendering="crispEdges"/>
<g font-size="10.2" fill="#333" text-anchor="middle">
<text x="896" y="15">M1</text>
<text x="923.5" y="15">M5</text>
<text x="952" y="15">M15</text>
<text x="980" y="15">M30</text>
<text x="1008" y="15">H1</text>
<text x="1036" y="15">H4</text>
<text x="1064" y="15">D1</text>
<text x="1093" y="15">W1</text>
<text x="1119.5" y="15">MN</text>
</g>
<rect x="1135" y="0" width="1" height="22" fill="#a0a0a0" shape-rendering="crispEdges"/><rect x="1136" y="1" width="1" height="21" fill="#fff" shape-rendering="crispEdges"/>
<path d="M1602.4,11.4 L1598,15.8" stroke="#2a50c8" stroke-width="2.6" stroke-linecap="round"/>
<circle cx="1605.6" cy="8.3" r="3.8" fill="#f4f4f4" stroke="#2a5ad8" stroke-width="1.5"/>
<path d="M1640.5,12.6 L1642,14.8 L1638,13.2 Z" fill="#d8d8e0" stroke="#a0a0a0" stroke-width="0.7"/>
<ellipse cx="1638.4" cy="8.3" rx="6.4" ry="5" fill="url(#bub)" stroke="#989898" stroke-width="0.9"/>
<path d="M1627,15.6 L1626.4,17.8 L1630,16 Z" fill="#d8d8e0" stroke="#a0a0a0" stroke-width="0.7"/>
<ellipse cx="1628.9" cy="12.4" rx="4.7" ry="3.9" fill="url(#bub)" stroke="#989898" stroke-width="0.9"/>
</g>
</svg>
</body></html>
